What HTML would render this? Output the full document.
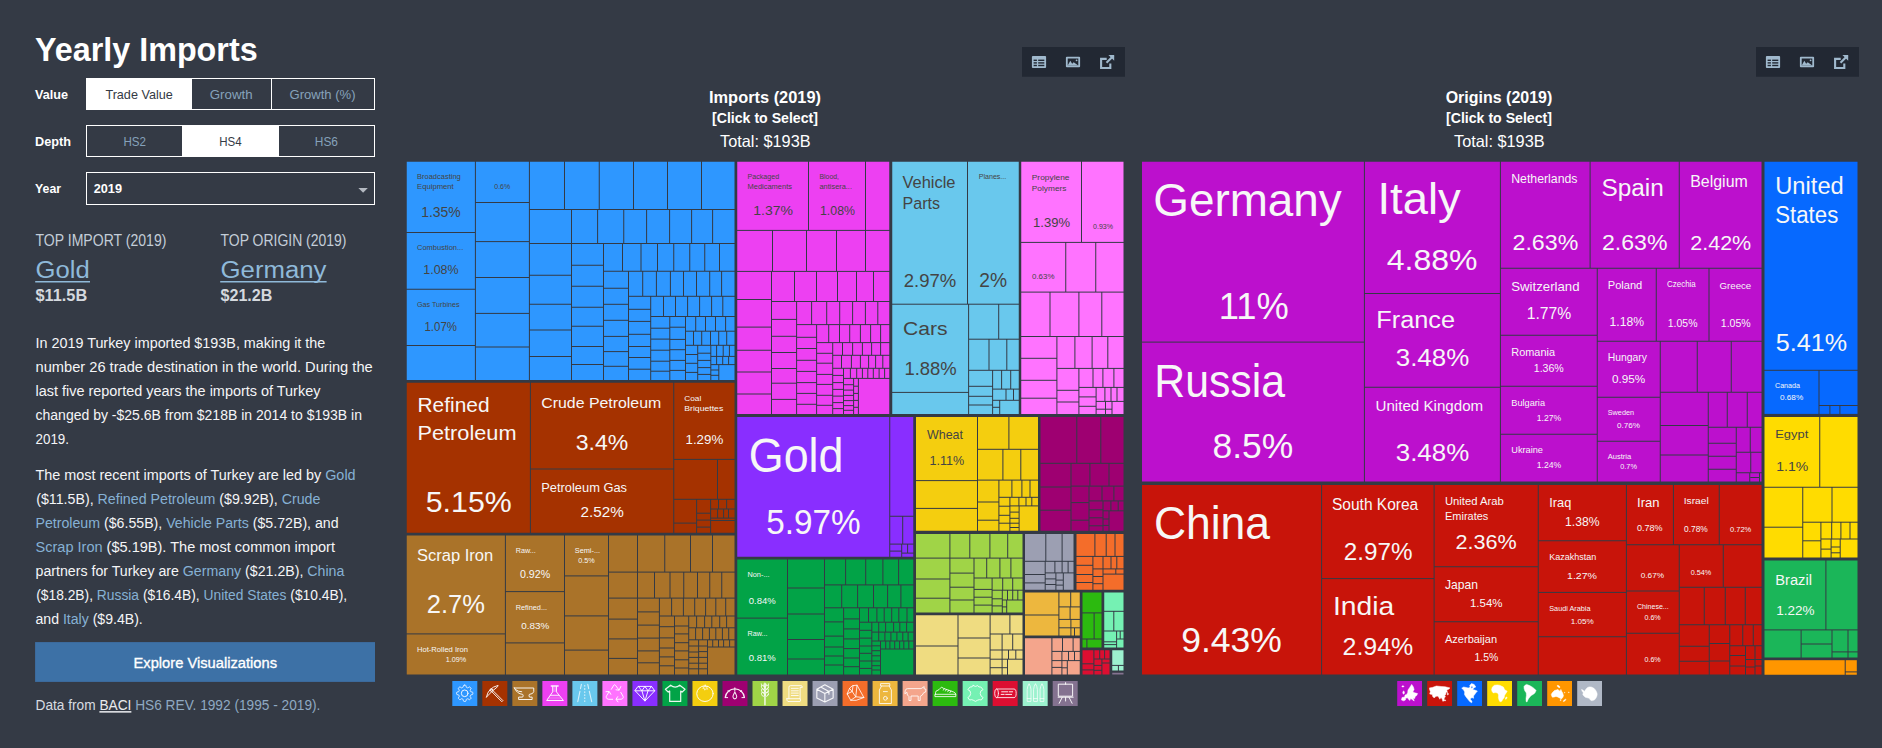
<!DOCTYPE html>
<html lang="en"><head><meta charset="utf-8"><title>Yearly Imports</title>
<style>
html,body{margin:0;padding:0;background:#343a45;}
body{width:1882px;height:748px;overflow:hidden;font-family:"Liberation Sans", sans-serif;}
svg{display:block;font-family:"Liberation Sans", sans-serif;}
svg text{white-space:pre;}
</style></head><body>
<svg width="1882" height="748" viewBox="0 0 1882 748">
<g fill="#2E97FF">
<rect x="406.75" y="161.75" width="68.15" height="70.25"/>
<rect x="406.75" y="233" width="68.15" height="55.75"/>
<rect x="406.75" y="289.75" width="68.15" height="55.25"/>
<rect x="406.75" y="346" width="68.15" height="34"/>
<rect x="475.9" y="161.75" width="53" height="40.25"/>
<rect x="475.9" y="203" width="53" height="38.1"/>
<rect x="475.9" y="242.1" width="53" height="34.9"/>
<rect x="475.9" y="278" width="53" height="34.9"/>
<rect x="475.9" y="313.9" width="53" height="32.6"/>
<rect x="475.9" y="347.5" width="53" height="32.5"/>
<rect x="529.9" y="161.75" width="34.1" height="47.25"/>
<rect x="565" y="161.75" width="33.75" height="47.25"/>
<rect x="599.75" y="161.75" width="33.25" height="47.25"/>
<rect x="634" y="161.75" width="33" height="47.25"/>
<rect x="668" y="161.75" width="33" height="47.25"/>
<rect x="702" y="161.75" width="32.5" height="47.25"/>
<rect x="529.9" y="210" width="41.1" height="33"/>
<rect x="572" y="210" width="25.1" height="33"/>
<rect x="598.1" y="210" width="25.15" height="33"/>
<rect x="624.25" y="210" width="21.85" height="33"/>
<rect x="647.1" y="210" width="22" height="33"/>
<rect x="670.1" y="210" width="21" height="33"/>
<rect x="692.1" y="210" width="20" height="33"/>
<rect x="713.1" y="210" width="21.4" height="33"/>
<rect x="529.9" y="244" width="41.1" height="30.75"/>
<rect x="529.9" y="275.75" width="41.1" height="28"/>
<rect x="529.9" y="304.75" width="41.1" height="24.75"/>
<rect x="529.9" y="330.5" width="41.1" height="25.5"/>
<rect x="529.9" y="357" width="41.1" height="23"/>
<rect x="572" y="244" width="31" height="20.75"/>
<rect x="572" y="265.75" width="31" height="20"/>
<rect x="572" y="286.75" width="31" height="20"/>
<rect x="572" y="307.75" width="31" height="18"/>
<rect x="572" y="326.75" width="31" height="19.25"/>
<rect x="572" y="347" width="31" height="17"/>
<rect x="572" y="365" width="31" height="15"/>
<rect x="604" y="244" width="18" height="26.75"/>
<rect x="623" y="244" width="17.5" height="26.75"/>
<rect x="641.5" y="244" width="15.5" height="26.75"/>
<rect x="658" y="244" width="15.25" height="26.75"/>
<rect x="674.25" y="244" width="15" height="26.75"/>
<rect x="690.25" y="244" width="14" height="26.75"/>
<rect x="705.25" y="244" width="13.75" height="26.75"/>
<rect x="720" y="244" width="14.5" height="26.75"/>
<rect x="604" y="271.75" width="24" height="16"/>
<rect x="604" y="288.75" width="24" height="15.05"/>
<rect x="604" y="304.8" width="24" height="15"/>
<rect x="604" y="320.8" width="24" height="15.1"/>
<rect x="604" y="336.9" width="24" height="14.2"/>
<rect x="604" y="352.1" width="24" height="13.7"/>
<rect x="604" y="366.8" width="24" height="13.2"/>
<rect x="629" y="271.75" width="13.2" height="24.05"/>
<rect x="643.2" y="271.75" width="12.7" height="24.05"/>
<rect x="656.9" y="271.75" width="13" height="24.05"/>
<rect x="670.9" y="271.75" width="12.1" height="24.05"/>
<rect x="684" y="271.75" width="12" height="24.05"/>
<rect x="697" y="271.75" width="12.2" height="24.05"/>
<rect x="710.2" y="271.75" width="10.9" height="24.05"/>
<rect x="722.1" y="271.75" width="12.4" height="24.05"/>
<rect x="629" y="296.8" width="21.2" height="12"/>
<rect x="629" y="309.8" width="21.2" height="11.1"/>
<rect x="629" y="321.9" width="21.2" height="11.9"/>
<rect x="629" y="334.8" width="21.2" height="11.2"/>
<rect x="629" y="347" width="21.2" height="10"/>
<rect x="629" y="358" width="21.2" height="10.7"/>
<rect x="629" y="369.7" width="21.2" height="10.3"/>
<rect x="651.2" y="296.8" width="11.8" height="19.2"/>
<rect x="664" y="296.8" width="11" height="19.2"/>
<rect x="676" y="296.8" width="11.1" height="19.2"/>
<rect x="688.1" y="296.8" width="11" height="19.2"/>
<rect x="700.1" y="296.8" width="11" height="19.2"/>
<rect x="712.1" y="296.8" width="10.2" height="19.2"/>
<rect x="723.3" y="296.8" width="11.2" height="19.2"/>
<rect x="651.2" y="317" width="18.1" height="10.7"/>
<rect x="651.2" y="328.7" width="18.1" height="9.9"/>
<rect x="651.2" y="339.6" width="18.1" height="10.1"/>
<rect x="651.2" y="350.7" width="18.1" height="10"/>
<rect x="651.2" y="361.7" width="18.1" height="9"/>
<rect x="651.2" y="371.7" width="18.1" height="8.3"/>
<rect x="670.3" y="317" width="14.7" height="9.7"/>
<rect x="670.3" y="327.7" width="14.7" height="11.2"/>
<rect x="670.3" y="339.9" width="14.7" height="9.3"/>
<rect x="670.3" y="350.2" width="14.7" height="9.7"/>
<rect x="670.3" y="360.9" width="14.7" height="9"/>
<rect x="670.3" y="370.9" width="14.7" height="9.1"/>
<rect x="686" y="317" width="9.2" height="13.7"/>
<rect x="696.2" y="317" width="8.8" height="13.7"/>
<rect x="706" y="317" width="9" height="13.7"/>
<rect x="716" y="317" width="9.1" height="13.7"/>
<rect x="726.1" y="317" width="8.4" height="13.7"/>
<rect x="686" y="331.7" width="7" height="13.1"/>
<rect x="694" y="331.7" width="7.2" height="13.1"/>
<rect x="702.2" y="331.7" width="7.8" height="13.1"/>
<rect x="711" y="331.7" width="7.2" height="13.1"/>
<rect x="719.2" y="331.7" width="7" height="13.1"/>
<rect x="727.2" y="331.7" width="7.3" height="13.1"/>
<rect x="686" y="345.8" width="11.2" height="8.2"/>
<rect x="686" y="355" width="11.2" height="7.8"/>
<rect x="686" y="363.8" width="11.2" height="8.1"/>
<rect x="686" y="372.9" width="11.2" height="7.1"/>
<rect x="698.2" y="345.8" width="12.1" height="6.9"/>
<rect x="698.2" y="353.7" width="12.1" height="6.2"/>
<rect x="698.2" y="360.9" width="12.1" height="6.2"/>
<rect x="698.2" y="368.1" width="12.1" height="5.8"/>
<rect x="698.2" y="374.9" width="12.1" height="5.1"/>
<rect x="711.3" y="345.8" width="4.8" height="10.1"/>
<rect x="717.1" y="345.8" width="5.6" height="10.1"/>
<rect x="723.7" y="345.8" width="5.2" height="10.1"/>
<rect x="729.9" y="345.8" width="4.6" height="10.1"/>
<rect x="711.3" y="356.9" width="4.8" height="7.2"/>
<rect x="717.1" y="356.9" width="5.1" height="7.2"/>
<rect x="723.2" y="356.9" width="4.9" height="7.2"/>
<rect x="729.1" y="356.9" width="5.4" height="7.2"/>
<rect x="711.3" y="365.1" width="7" height="4.4"/>
<rect x="711.3" y="370.5" width="7" height="4.3"/>
<rect x="711.3" y="375.8" width="7" height="4.2"/>
<rect x="719.3" y="365.1" width="15.2" height="14.9"/>
</g>
<g fill="#A53200">
<rect x="406.75" y="382.75" width="123.15" height="150"/>
<rect x="530.9" y="382.75" width="142.35" height="85.75"/>
<rect x="530.9" y="469.5" width="142.35" height="63.25"/>
<rect x="674.25" y="382.75" width="60.25" height="76.15"/>
<rect x="674.25" y="459.9" width="42.75" height="38.9"/>
<rect x="718" y="459.9" width="16.5" height="38.9"/>
<rect x="674.25" y="499.8" width="21.85" height="22.8"/>
<rect x="674.25" y="523.6" width="21.85" height="9.15"/>
<rect x="697.1" y="499.8" width="13" height="12.9"/>
<rect x="697.1" y="513.7" width="13" height="5.9"/>
<rect x="697.1" y="520.6" width="13" height="6"/>
<rect x="697.1" y="527.6" width="13" height="5.15"/>
<rect x="711.1" y="499.8" width="6.9" height="8.7"/>
<rect x="719" y="499.8" width="7.1" height="8.7"/>
<rect x="727.1" y="499.8" width="7.4" height="8.7"/>
<rect x="711.1" y="509.5" width="6" height="8.1"/>
<rect x="718.1" y="509.5" width="5" height="8.1"/>
<rect x="724.1" y="509.5" width="3.9" height="8.1"/>
<rect x="729" y="509.5" width="5.5" height="8.1"/>
<rect x="711.1" y="518.6" width="23.4" height="1.4"/>
<rect x="711.1" y="521" width="23.4" height="11.75"/>
</g>
<g fill="#AA7329">
<rect x="406.75" y="535.5" width="98.15" height="97.9"/>
<rect x="406.75" y="634.4" width="98.15" height="40.1"/>
<rect x="505.9" y="535.5" width="58.1" height="55.6"/>
<rect x="505.9" y="592.1" width="58.1" height="50.3"/>
<rect x="505.9" y="643.4" width="58.1" height="31.1"/>
<rect x="565" y="535.5" width="43" height="39.9"/>
<rect x="565" y="576.4" width="43" height="39"/>
<rect x="565" y="616.4" width="43" height="33.2"/>
<rect x="565" y="650.6" width="43" height="23.9"/>
<rect x="609" y="535.5" width="28" height="36.1"/>
<rect x="609" y="572.6" width="28" height="25"/>
<rect x="609" y="598.6" width="28" height="20"/>
<rect x="609" y="619.6" width="28" height="18.8"/>
<rect x="609" y="639.4" width="28" height="18.5"/>
<rect x="609" y="658.9" width="28" height="15.6"/>
<rect x="638" y="535.5" width="26.25" height="36.1"/>
<rect x="665.25" y="535.5" width="24.75" height="36.1"/>
<rect x="691" y="535.5" width="21" height="36.1"/>
<rect x="713" y="535.5" width="21.5" height="36.1"/>
<rect x="638" y="572.6" width="16" height="25"/>
<rect x="655" y="572.6" width="14.5" height="25"/>
<rect x="670.5" y="572.6" width="12.75" height="25"/>
<rect x="684.25" y="572.6" width="12.75" height="25"/>
<rect x="698" y="572.6" width="11.25" height="25"/>
<rect x="710.25" y="572.6" width="11" height="25"/>
<rect x="722.25" y="572.6" width="12.25" height="25"/>
<rect x="638" y="598.6" width="20.9" height="12.8"/>
<rect x="638" y="612.4" width="20.9" height="12.2"/>
<rect x="638" y="625.6" width="20.9" height="12"/>
<rect x="638" y="638.6" width="20.9" height="11.8"/>
<rect x="638" y="651.4" width="20.9" height="10.9"/>
<rect x="638" y="663.3" width="20.9" height="11.2"/>
<rect x="659.9" y="598.6" width="11.2" height="16.9"/>
<rect x="672.1" y="598.6" width="10.8" height="16.9"/>
<rect x="683.9" y="598.6" width="10.3" height="16.9"/>
<rect x="695.2" y="598.6" width="9.9" height="16.9"/>
<rect x="706.1" y="598.6" width="9.2" height="16.9"/>
<rect x="716.3" y="598.6" width="8.9" height="16.9"/>
<rect x="726.2" y="598.6" width="8.3" height="16.9"/>
<rect x="659.9" y="616.5" width="14.1" height="9.7"/>
<rect x="659.9" y="627.2" width="14.1" height="10.2"/>
<rect x="659.9" y="638.4" width="14.1" height="9.1"/>
<rect x="659.9" y="648.5" width="14.1" height="7.9"/>
<rect x="659.9" y="657.4" width="14.1" height="7.9"/>
<rect x="659.9" y="666.3" width="14.1" height="8.2"/>
<rect x="675" y="616.5" width="13.2" height="9"/>
<rect x="675" y="626.5" width="13.2" height="6.9"/>
<rect x="675" y="634.4" width="13.2" height="7.8"/>
<rect x="675" y="643.2" width="13.2" height="7.2"/>
<rect x="675" y="651.4" width="13.2" height="7.9"/>
<rect x="675" y="660.3" width="13.2" height="7.2"/>
<rect x="675" y="668.5" width="13.2" height="6"/>
<rect x="689.2" y="616.5" width="6.9" height="10.8"/>
<rect x="697.1" y="616.5" width="7" height="10.8"/>
<rect x="705.1" y="616.5" width="6.2" height="10.8"/>
<rect x="712.3" y="616.5" width="6.9" height="10.8"/>
<rect x="720.2" y="616.5" width="5.9" height="10.8"/>
<rect x="727.1" y="616.5" width="7.4" height="10.8"/>
<rect x="689.2" y="628.3" width="5.9" height="11"/>
<rect x="696.1" y="628.3" width="6" height="11"/>
<rect x="703.1" y="628.3" width="5.8" height="11"/>
<rect x="709.9" y="628.3" width="5.4" height="11"/>
<rect x="716.3" y="628.3" width="5.6" height="11"/>
<rect x="722.9" y="628.3" width="5.3" height="11"/>
<rect x="729.2" y="628.3" width="5.3" height="11"/>
<rect x="689.2" y="640.3" width="8.9" height="5.2"/>
<rect x="689.2" y="646.5" width="8.9" height="5"/>
<rect x="689.2" y="652.5" width="8.9" height="4.4"/>
<rect x="689.2" y="657.9" width="8.9" height="4.8"/>
<rect x="689.2" y="663.7" width="8.9" height="4.6"/>
<rect x="689.2" y="669.3" width="8.9" height="5.2"/>
<rect x="699.1" y="640.3" width="7.9" height="5.2"/>
<rect x="699.1" y="646.5" width="7.9" height="4.6"/>
<rect x="699.1" y="652.1" width="7.9" height="4.8"/>
<rect x="699.1" y="657.9" width="7.9" height="4.8"/>
<rect x="699.1" y="663.7" width="7.9" height="4.6"/>
<rect x="699.1" y="669.3" width="7.9" height="5.2"/>
<rect x="708" y="640.3" width="4.2" height="6.2"/>
<rect x="713.2" y="640.3" width="4.8" height="6.2"/>
<rect x="719" y="640.3" width="4.1" height="6.2"/>
<rect x="724.1" y="640.3" width="5" height="6.2"/>
<rect x="730.1" y="640.3" width="4.4" height="6.2"/>
<rect x="708" y="647.5" width="26.5" height="27"/>
</g>
<g fill="#ED40F2">
<rect x="737.25" y="161.75" width="70.75" height="68.15"/>
<rect x="809" y="161.75" width="56" height="68.15"/>
<rect x="866" y="161.75" width="23.25" height="68.15"/>
<rect x="737.25" y="230.9" width="34.75" height="40"/>
<rect x="773" y="230.9" width="33" height="40"/>
<rect x="807" y="230.9" width="29" height="40"/>
<rect x="837" y="230.9" width="28" height="40"/>
<rect x="866" y="230.9" width="23.25" height="40"/>
<rect x="737.25" y="271.9" width="33.75" height="27.1"/>
<rect x="737.25" y="300" width="33.75" height="26.6"/>
<rect x="737.25" y="327.6" width="33.75" height="22.15"/>
<rect x="737.25" y="350.75" width="33.75" height="20.75"/>
<rect x="737.25" y="372.5" width="33.75" height="21"/>
<rect x="737.25" y="394.5" width="33.75" height="19.5"/>
<rect x="772" y="271.9" width="22" height="29.1"/>
<rect x="795" y="271.9" width="21" height="29.1"/>
<rect x="817" y="271.9" width="20" height="29.1"/>
<rect x="838" y="271.9" width="18" height="29.1"/>
<rect x="857" y="271.9" width="16" height="29.1"/>
<rect x="874" y="271.9" width="15.25" height="29.1"/>
<rect x="772" y="302" width="24.1" height="16.9"/>
<rect x="772" y="319.9" width="24.1" height="15.9"/>
<rect x="772" y="336.8" width="24.1" height="15.2"/>
<rect x="772" y="353" width="24.1" height="15"/>
<rect x="772" y="369" width="24.1" height="13.7"/>
<rect x="772" y="383.7" width="24.1" height="15.2"/>
<rect x="772" y="399.9" width="24.1" height="14.1"/>
<rect x="797.1" y="302" width="14" height="22.1"/>
<rect x="812.1" y="302" width="14.1" height="22.1"/>
<rect x="827.2" y="302" width="12" height="22.1"/>
<rect x="840.2" y="302" width="11.9" height="22.1"/>
<rect x="853.1" y="302" width="11.8" height="22.1"/>
<rect x="865.9" y="302" width="11.4" height="22.1"/>
<rect x="878.3" y="302" width="10.95" height="22.1"/>
<rect x="797.1" y="325.1" width="19" height="11.7"/>
<rect x="797.1" y="337.8" width="19" height="10.2"/>
<rect x="797.1" y="349" width="19" height="10.8"/>
<rect x="797.1" y="360.8" width="19" height="10.1"/>
<rect x="797.1" y="371.9" width="19" height="10.2"/>
<rect x="797.1" y="383.1" width="19" height="9.8"/>
<rect x="797.1" y="393.9" width="19" height="9.9"/>
<rect x="797.1" y="404.8" width="19" height="9.2"/>
<rect x="817.1" y="325.1" width="11.1" height="17"/>
<rect x="829.2" y="325.1" width="9.8" height="17"/>
<rect x="840" y="325.1" width="9.2" height="17"/>
<rect x="850.2" y="325.1" width="9.7" height="17"/>
<rect x="860.9" y="325.1" width="9.2" height="17"/>
<rect x="871.1" y="325.1" width="9" height="17"/>
<rect x="881.1" y="325.1" width="8.15" height="17"/>
<rect x="817.1" y="343.1" width="15.1" height="9.7"/>
<rect x="817.1" y="353.8" width="15.1" height="8.9"/>
<rect x="817.1" y="363.7" width="15.1" height="10.2"/>
<rect x="817.1" y="374.9" width="15.1" height="9"/>
<rect x="817.1" y="384.9" width="15.1" height="9.9"/>
<rect x="817.1" y="395.8" width="15.1" height="9"/>
<rect x="817.1" y="405.8" width="15.1" height="8.2"/>
<rect x="833.2" y="343.1" width="8.8" height="11.7"/>
<rect x="843" y="343.1" width="9.1" height="11.7"/>
<rect x="853.1" y="343.1" width="8.8" height="11.7"/>
<rect x="862.9" y="343.1" width="8.2" height="11.7"/>
<rect x="872.1" y="343.1" width="8" height="11.7"/>
<rect x="881.1" y="343.1" width="8.15" height="11.7"/>
<rect x="833.2" y="355.8" width="7.8" height="12"/>
<rect x="842" y="355.8" width="8.9" height="12"/>
<rect x="851.9" y="355.8" width="8" height="12"/>
<rect x="860.9" y="355.8" width="7.2" height="12"/>
<rect x="869.1" y="355.8" width="6" height="12"/>
<rect x="876.1" y="355.8" width="6.2" height="12"/>
<rect x="883.3" y="355.8" width="5.95" height="12"/>
<rect x="833.2" y="368.8" width="9.8" height="6.1"/>
<rect x="833.2" y="375.9" width="9.8" height="6.2"/>
<rect x="833.2" y="383.1" width="9.8" height="5.8"/>
<rect x="833.2" y="389.9" width="9.8" height="5.7"/>
<rect x="833.2" y="396.6" width="9.8" height="5.5"/>
<rect x="833.2" y="403.1" width="9.8" height="5"/>
<rect x="833.2" y="409.1" width="9.8" height="4.9"/>
<rect x="844" y="368.8" width="5.9" height="9.1"/>
<rect x="850.9" y="368.8" width="5.3" height="9.1"/>
<rect x="857.2" y="368.8" width="4.7" height="9.1"/>
<rect x="862.9" y="368.8" width="4.4" height="9.1"/>
<rect x="868.3" y="368.8" width="4.5" height="9.1"/>
<rect x="873.8" y="368.8" width="4.8" height="9.1"/>
<rect x="879.6" y="368.8" width="4.5" height="9.1"/>
<rect x="885.1" y="368.8" width="4.15" height="9.1"/>
<rect x="844" y="378.9" width="9.1" height="5.3"/>
<rect x="844" y="385.2" width="9.1" height="4.4"/>
<rect x="844" y="390.6" width="9.1" height="4.3"/>
<rect x="844" y="395.9" width="9.1" height="4.2"/>
<rect x="844" y="401.1" width="9.1" height="4"/>
<rect x="844" y="406.1" width="9.1" height="3.7"/>
<rect x="844" y="410.8" width="9.1" height="3.2"/>
<rect x="854.1" y="378.9" width="3.8" height="6.8"/>
<rect x="854.1" y="386.7" width="3.8" height="6.2"/>
<rect x="854.1" y="393.9" width="3.8" height="6"/>
<rect x="854.1" y="400.9" width="3.8" height="5.9"/>
<rect x="854.1" y="407.8" width="3.8" height="6.2"/>
<rect x="858.9" y="378.9" width="30.35" height="35.1"/>
</g>
<g fill="#69C8ED">
<rect x="892.25" y="161.75" width="74.75" height="141.95"/>
<rect x="968" y="161.75" width="50.75" height="141.95"/>
<rect x="892.25" y="304.7" width="75.85" height="87.2"/>
<rect x="892.25" y="392.9" width="75.85" height="21.1"/>
<rect x="969.1" y="304.7" width="29.1" height="34"/>
<rect x="999.2" y="304.7" width="19.55" height="34"/>
<rect x="969.1" y="339.7" width="19.4" height="30.1"/>
<rect x="989.5" y="339.7" width="16.8" height="30.1"/>
<rect x="1007.3" y="339.7" width="11.45" height="30.1"/>
<rect x="969.1" y="370.8" width="23" height="15"/>
<rect x="969.1" y="386.8" width="23" height="9"/>
<rect x="969.1" y="396.8" width="23" height="7.7"/>
<rect x="969.1" y="405.5" width="23" height="8.5"/>
<rect x="993.1" y="370.8" width="8" height="17.8"/>
<rect x="1002.1" y="370.8" width="8.1" height="17.8"/>
<rect x="1011.2" y="370.8" width="7.55" height="17.8"/>
<rect x="993.1" y="389.6" width="12.4" height="10.2"/>
<rect x="1006.5" y="389.6" width="6.5" height="10.2"/>
<rect x="1014" y="389.6" width="4.75" height="10.2"/>
<rect x="993.1" y="400.8" width="6.1" height="6"/>
<rect x="993.1" y="407.8" width="6.1" height="6.2"/>
<rect x="1000.2" y="400.8" width="18.55" height="13.2"/>
</g>
<g fill="#FF73FF">
<rect x="1021.25" y="161.75" width="59.75" height="80.15"/>
<rect x="1082" y="161.75" width="41.5" height="80.15"/>
<rect x="1021.25" y="242.9" width="44" height="48.7"/>
<rect x="1066.25" y="242.9" width="29" height="48.7"/>
<rect x="1096.25" y="242.9" width="27.25" height="48.7"/>
<rect x="1021.25" y="292.6" width="28.25" height="43.4"/>
<rect x="1050.5" y="292.6" width="27.9" height="43.4"/>
<rect x="1079.4" y="292.6" width="21.9" height="43.4"/>
<rect x="1102.3" y="292.6" width="21.2" height="43.4"/>
<rect x="1021.25" y="337" width="35.15" height="20.8"/>
<rect x="1021.25" y="358.8" width="35.15" height="21"/>
<rect x="1021.25" y="380.8" width="35.15" height="16.9"/>
<rect x="1021.25" y="398.7" width="35.15" height="15.3"/>
<rect x="1057.4" y="337" width="17" height="30.9"/>
<rect x="1075.4" y="337" width="16.2" height="30.9"/>
<rect x="1092.6" y="337" width="14.7" height="30.9"/>
<rect x="1108.3" y="337" width="15.2" height="30.9"/>
<rect x="1057.4" y="368.9" width="21" height="20.9"/>
<rect x="1057.4" y="390.8" width="21" height="10.7"/>
<rect x="1057.4" y="402.5" width="21" height="11.5"/>
<rect x="1079.4" y="368.9" width="13.1" height="18"/>
<rect x="1093.5" y="368.9" width="8.9" height="18"/>
<rect x="1103.4" y="368.9" width="10" height="18"/>
<rect x="1114.4" y="368.9" width="9.1" height="18"/>
<rect x="1079.4" y="387.9" width="16.2" height="8.5"/>
<rect x="1079.4" y="397.4" width="16.2" height="8.4"/>
<rect x="1079.4" y="406.8" width="16.2" height="7.2"/>
<rect x="1096.6" y="387.9" width="7.8" height="13"/>
<rect x="1105.4" y="387.9" width="5.1" height="13"/>
<rect x="1111.5" y="387.9" width="5" height="13"/>
<rect x="1117.5" y="387.9" width="6" height="13"/>
<rect x="1096.6" y="401.9" width="8.4" height="6.8"/>
<rect x="1096.6" y="409.7" width="8.4" height="4.3"/>
<rect x="1106" y="401.9" width="5.5" height="6.8"/>
<rect x="1106" y="409.7" width="5.5" height="4.3"/>
<rect x="1112.5" y="401.9" width="11" height="12.1"/>
</g>
<g fill="#892EFF">
<rect x="737.25" y="417" width="152" height="139.75"/>
<rect x="890.25" y="417" width="23" height="98.75"/>
<rect x="890.25" y="516.75" width="11.95" height="26.85"/>
<rect x="903.2" y="516.75" width="10.05" height="26.85"/>
<rect x="890.25" y="544.6" width="10.95" height="6"/>
<rect x="890.25" y="551.6" width="10.95" height="5.15"/>
<rect x="902.2" y="544.6" width="4.9" height="8"/>
<rect x="908.1" y="544.6" width="5.15" height="8"/>
<rect x="902.2" y="553.6" width="11.05" height="3.15"/>
</g>
<g fill="#F4CE0F">
<rect x="916" y="417" width="61" height="63.1"/>
<rect x="916" y="481.1" width="61" height="26.8"/>
<rect x="916" y="508.9" width="61" height="21.85"/>
<rect x="978" y="417" width="30.4" height="31.8"/>
<rect x="1009.4" y="417" width="28.6" height="31.8"/>
<rect x="978" y="449.8" width="24.4" height="29.8"/>
<rect x="1003.4" y="449.8" width="16.9" height="29.8"/>
<rect x="1021.3" y="449.8" width="16.7" height="29.8"/>
<rect x="978" y="480.6" width="20.4" height="20.9"/>
<rect x="978" y="502.5" width="20.4" height="17.2"/>
<rect x="978" y="520.7" width="20.4" height="10.05"/>
<rect x="999.4" y="480.6" width="12" height="16.2"/>
<rect x="1012.4" y="480.6" width="9" height="16.2"/>
<rect x="1022.4" y="480.6" width="7.1" height="16.2"/>
<rect x="1030.5" y="480.6" width="7.5" height="16.2"/>
<rect x="999.4" y="497.8" width="10" height="7.9"/>
<rect x="999.4" y="506.7" width="10" height="8.1"/>
<rect x="999.4" y="515.8" width="10" height="6.9"/>
<rect x="999.4" y="523.7" width="10" height="7.05"/>
<rect x="1010.4" y="497.8" width="8" height="7.6"/>
<rect x="1019.4" y="497.8" width="6.1" height="7.6"/>
<rect x="1026.5" y="497.8" width="4.8" height="7.6"/>
<rect x="1032.3" y="497.8" width="5.7" height="7.6"/>
<rect x="1010.4" y="506.4" width="8.2" height="5.2"/>
<rect x="1010.4" y="512.6" width="8.2" height="5.2"/>
<rect x="1010.4" y="518.8" width="8.2" height="3.9"/>
<rect x="1010.4" y="523.7" width="8.2" height="3.3"/>
<rect x="1010.4" y="528" width="8.2" height="2.75"/>
<rect x="1019.6" y="506.4" width="18.4" height="24.35"/>
</g>
<g fill="#9E0071">
<rect x="1040.5" y="417" width="35.8" height="45.8"/>
<rect x="1077.3" y="417" width="23" height="45.8"/>
<rect x="1101.3" y="417" width="22.2" height="45.8"/>
<rect x="1040.5" y="463.8" width="30" height="22.7"/>
<rect x="1040.5" y="487.5" width="30" height="22.2"/>
<rect x="1040.5" y="510.7" width="30" height="20.05"/>
<rect x="1071.5" y="463.8" width="17.9" height="21.8"/>
<rect x="1090.4" y="463.8" width="18.1" height="21.8"/>
<rect x="1109.5" y="463.8" width="14" height="21.8"/>
<rect x="1071.5" y="486.6" width="17" height="15.5"/>
<rect x="1071.5" y="503.1" width="17" height="16.6"/>
<rect x="1071.5" y="520.7" width="17" height="10.05"/>
<rect x="1089.5" y="486.6" width="12" height="13.8"/>
<rect x="1102.5" y="486.6" width="10.9" height="13.8"/>
<rect x="1114.4" y="486.6" width="9.1" height="13.8"/>
<rect x="1089.5" y="501.4" width="13" height="7.9"/>
<rect x="1089.5" y="510.3" width="13" height="7"/>
<rect x="1089.5" y="518.3" width="13" height="7"/>
<rect x="1089.5" y="526.3" width="13" height="4.45"/>
<rect x="1103.5" y="501.4" width="6.9" height="8.9"/>
<rect x="1111.4" y="501.4" width="6.3" height="8.9"/>
<rect x="1118.7" y="501.4" width="4.8" height="8.9"/>
<rect x="1103.5" y="511.3" width="5" height="7.2"/>
<rect x="1103.5" y="519.5" width="5" height="5.4"/>
<rect x="1103.5" y="525.9" width="5" height="4.85"/>
<rect x="1109.5" y="511.3" width="14" height="19.45"/>
</g>
<g fill="#02A347">
<rect x="737.25" y="559.5" width="49.75" height="58.1"/>
<rect x="737.25" y="618.6" width="49.75" height="55.9"/>
<rect x="788" y="559.5" width="36" height="28"/>
<rect x="788" y="588.5" width="36" height="25"/>
<rect x="788" y="614.5" width="36" height="24.5"/>
<rect x="788" y="640" width="36" height="18.5"/>
<rect x="788" y="659.5" width="36" height="15"/>
<rect x="825" y="559.5" width="20.1" height="24.9"/>
<rect x="846.1" y="559.5" width="19.1" height="24.9"/>
<rect x="866.2" y="559.5" width="16.2" height="24.9"/>
<rect x="883.4" y="559.5" width="14.7" height="24.9"/>
<rect x="899.1" y="559.5" width="14.15" height="24.9"/>
<rect x="825" y="585.4" width="16.2" height="21.9"/>
<rect x="842.2" y="585.4" width="14.9" height="21.9"/>
<rect x="858.1" y="585.4" width="14.9" height="21.9"/>
<rect x="874" y="585.4" width="13.1" height="21.9"/>
<rect x="888.1" y="585.4" width="12.3" height="21.9"/>
<rect x="901.4" y="585.4" width="11.85" height="21.9"/>
<rect x="825" y="608.3" width="18.1" height="13.1"/>
<rect x="825" y="622.4" width="18.1" height="13.2"/>
<rect x="825" y="636.6" width="18.1" height="9.9"/>
<rect x="825" y="647.5" width="18.1" height="8"/>
<rect x="825" y="656.5" width="18.1" height="8"/>
<rect x="825" y="665.5" width="18.1" height="9"/>
<rect x="844.1" y="608.3" width="14.9" height="10.1"/>
<rect x="844.1" y="619.4" width="14.9" height="9"/>
<rect x="844.1" y="629.4" width="14.9" height="9"/>
<rect x="844.1" y="639.4" width="14.9" height="8.7"/>
<rect x="844.1" y="649.1" width="14.9" height="8.4"/>
<rect x="844.1" y="658.5" width="14.9" height="7.7"/>
<rect x="844.1" y="667.2" width="14.9" height="7.3"/>
<rect x="860" y="608.3" width="8" height="13.4"/>
<rect x="869" y="608.3" width="7.4" height="13.4"/>
<rect x="877.4" y="608.3" width="6.3" height="13.4"/>
<rect x="884.7" y="608.3" width="6.5" height="13.4"/>
<rect x="892.2" y="608.3" width="6.1" height="13.4"/>
<rect x="899.3" y="608.3" width="7.2" height="13.4"/>
<rect x="907.5" y="608.3" width="5.75" height="13.4"/>
<rect x="860" y="622.7" width="11.3" height="7.1"/>
<rect x="860" y="630.8" width="11.3" height="6.8"/>
<rect x="860" y="638.6" width="11.3" height="6.9"/>
<rect x="860" y="646.5" width="11.3" height="6.3"/>
<rect x="860" y="653.8" width="11.3" height="6.7"/>
<rect x="860" y="661.5" width="11.3" height="6.4"/>
<rect x="860" y="668.9" width="11.3" height="5.6"/>
<rect x="872.3" y="622.7" width="5.9" height="8.9"/>
<rect x="879.2" y="622.7" width="5.9" height="8.9"/>
<rect x="886.1" y="622.7" width="7" height="8.9"/>
<rect x="894.1" y="622.7" width="5.2" height="8.9"/>
<rect x="900.3" y="622.7" width="5.8" height="8.9"/>
<rect x="907.1" y="622.7" width="6.15" height="8.9"/>
<rect x="872.3" y="632.6" width="5.9" height="7.9"/>
<rect x="879.2" y="632.6" width="5.2" height="7.9"/>
<rect x="885.4" y="632.6" width="5" height="7.9"/>
<rect x="891.4" y="632.6" width="5" height="7.9"/>
<rect x="897.4" y="632.6" width="4.9" height="7.9"/>
<rect x="903.3" y="632.6" width="4.3" height="7.9"/>
<rect x="908.6" y="632.6" width="4.65" height="7.9"/>
<rect x="872.3" y="641.5" width="7.7" height="3.8"/>
<rect x="872.3" y="646.3" width="7.7" height="3.9"/>
<rect x="872.3" y="651.2" width="7.7" height="4.1"/>
<rect x="872.3" y="656.3" width="7.7" height="4.2"/>
<rect x="872.3" y="661.5" width="7.7" height="3.7"/>
<rect x="872.3" y="666.2" width="7.7" height="3.3"/>
<rect x="872.3" y="670.5" width="7.7" height="4"/>
<rect x="881" y="641.5" width="4.2" height="7"/>
<rect x="886.2" y="641.5" width="3.2" height="7"/>
<rect x="890.4" y="641.5" width="3.8" height="7"/>
<rect x="895.2" y="641.5" width="3.9" height="7"/>
<rect x="900.1" y="641.5" width="3.2" height="7"/>
<rect x="904.3" y="641.5" width="4" height="7"/>
<rect x="909.3" y="641.5" width="3.95" height="7"/>
<rect x="881" y="649.5" width="32.25" height="25"/>
</g>
<g fill="#A0D447">
<rect x="916" y="534" width="33.4" height="23.6"/>
<rect x="916" y="558.6" width="33.4" height="19.9"/>
<rect x="916" y="579.5" width="33.4" height="18.2"/>
<rect x="916" y="598.7" width="33.4" height="13.8"/>
<rect x="950.4" y="534" width="18.9" height="23.6"/>
<rect x="970.3" y="534" width="19.1" height="23.6"/>
<rect x="990.4" y="534" width="16.8" height="23.6"/>
<rect x="1008.2" y="534" width="14.3" height="23.6"/>
<rect x="950.4" y="558.6" width="23.1" height="14"/>
<rect x="950.4" y="573.6" width="23.1" height="13.1"/>
<rect x="950.4" y="587.7" width="23.1" height="11.8"/>
<rect x="950.4" y="600.5" width="23.1" height="12"/>
<rect x="974.5" y="558.6" width="11.7" height="18.9"/>
<rect x="987.2" y="558.6" width="12.2" height="18.9"/>
<rect x="1000.4" y="558.6" width="10" height="18.9"/>
<rect x="1011.4" y="558.6" width="11.1" height="18.9"/>
<rect x="974.5" y="578.5" width="17.1" height="10.4"/>
<rect x="974.5" y="589.9" width="17.1" height="6.8"/>
<rect x="974.5" y="597.7" width="17.1" height="6.9"/>
<rect x="974.5" y="605.6" width="17.1" height="6.9"/>
<rect x="992.6" y="578.5" width="9.6" height="11.2"/>
<rect x="1003.2" y="578.5" width="9" height="11.2"/>
<rect x="1013.2" y="578.5" width="9.3" height="11.2"/>
<rect x="992.6" y="590.7" width="9.2" height="7.6"/>
<rect x="992.6" y="599.3" width="9.2" height="6.1"/>
<rect x="992.6" y="606.4" width="9.2" height="6.1"/>
<rect x="1002.8" y="590.7" width="4.2" height="8.8"/>
<rect x="1008" y="590.7" width="4.2" height="8.8"/>
<rect x="1013.2" y="590.7" width="4.1" height="8.8"/>
<rect x="1018.3" y="590.7" width="4.2" height="8.8"/>
<rect x="1002.8" y="600.5" width="3.4" height="5.9"/>
<rect x="1002.8" y="607.4" width="3.4" height="5.1"/>
<rect x="1007.2" y="600.5" width="15.3" height="12"/>
</g>
<g fill="#EFDC81">
<rect x="916" y="615.25" width="41.5" height="30.25"/>
<rect x="916" y="646.5" width="41.5" height="28"/>
<rect x="958.5" y="615.25" width="31.1" height="22.25"/>
<rect x="958.5" y="638.5" width="31.1" height="19"/>
<rect x="958.5" y="658.5" width="31.1" height="16"/>
<rect x="990.6" y="615.25" width="18.8" height="18.25"/>
<rect x="1010.4" y="615.25" width="12.1" height="18.25"/>
<rect x="990.6" y="634.5" width="11" height="15"/>
<rect x="990.6" y="650.5" width="11" height="8.2"/>
<rect x="990.6" y="659.7" width="11" height="7.5"/>
<rect x="990.6" y="668.2" width="11" height="6.3"/>
<rect x="1002.6" y="634.5" width="9.6" height="15"/>
<rect x="1013.2" y="634.5" width="9.3" height="15"/>
<rect x="1002.6" y="650.5" width="5.4" height="8.2"/>
<rect x="1009" y="650.5" width="6.3" height="8.2"/>
<rect x="1016.3" y="650.5" width="6.2" height="8.2"/>
<rect x="1002.6" y="659.7" width="4.4" height="7.5"/>
<rect x="1002.6" y="668.2" width="4.4" height="6.3"/>
<rect x="1008" y="659.7" width="14.5" height="14.8"/>
</g>
<g fill="#9C9FB2">
<rect x="1025" y="534" width="20.3" height="26.8"/>
<rect x="1046.3" y="534" width="15.3" height="26.8"/>
<rect x="1062.6" y="534" width="10.9" height="26.8"/>
<rect x="1025" y="561.8" width="19.7" height="12.2"/>
<rect x="1025" y="575" width="19.7" height="7.4"/>
<rect x="1025" y="583.4" width="19.7" height="6.35"/>
<rect x="1045.7" y="561.8" width="8.7" height="10.6"/>
<rect x="1055.4" y="561.8" width="6.2" height="10.6"/>
<rect x="1062.6" y="561.8" width="5" height="10.6"/>
<rect x="1068.6" y="561.8" width="4.9" height="10.6"/>
<rect x="1045.7" y="573.4" width="9.7" height="5"/>
<rect x="1045.7" y="579.4" width="9.7" height="4.6"/>
<rect x="1045.7" y="585" width="9.7" height="4.75"/>
<rect x="1056.4" y="573.4" width="6.4" height="6.2"/>
<rect x="1056.4" y="580.6" width="6.4" height="4"/>
<rect x="1056.4" y="585.6" width="6.4" height="4.15"/>
<rect x="1063.8" y="573.4" width="9.7" height="16.35"/>
</g>
<g fill="#F46D2A">
<rect x="1076.5" y="534" width="17.9" height="21.9"/>
<rect x="1095.4" y="534" width="10.3" height="21.9"/>
<rect x="1106.7" y="534" width="7.8" height="21.9"/>
<rect x="1115.5" y="534" width="8" height="21.9"/>
<rect x="1076.5" y="556.9" width="15.9" height="7.9"/>
<rect x="1076.5" y="565.8" width="15.9" height="8.2"/>
<rect x="1076.5" y="575" width="15.9" height="7"/>
<rect x="1076.5" y="583" width="15.9" height="6.75"/>
<rect x="1093.4" y="556.9" width="9.1" height="11.5"/>
<rect x="1103.5" y="556.9" width="7" height="11.5"/>
<rect x="1111.5" y="556.9" width="4.8" height="11.5"/>
<rect x="1117.3" y="556.9" width="6.2" height="11.5"/>
<rect x="1093.4" y="569.4" width="9.1" height="6.6"/>
<rect x="1093.4" y="577" width="9.1" height="6.2"/>
<rect x="1093.4" y="584.2" width="9.1" height="5.55"/>
<rect x="1103.5" y="569.4" width="11.8" height="4.2"/>
<rect x="1116.3" y="569.4" width="7.2" height="4.2"/>
<rect x="1103.5" y="574.6" width="20" height="15.15"/>
</g>
<g fill="#EDB73E">
<rect x="1025" y="592.5" width="33.4" height="22"/>
<rect x="1025" y="615.5" width="33.4" height="20"/>
<rect x="1059.4" y="592.5" width="10.8" height="13.9"/>
<rect x="1071.2" y="592.5" width="8.55" height="13.9"/>
<rect x="1059.4" y="607.4" width="10.2" height="11.5"/>
<rect x="1070.6" y="607.4" width="9.15" height="11.5"/>
<rect x="1059.4" y="619.9" width="11" height="7.4"/>
<rect x="1071.4" y="619.9" width="8.35" height="7.4"/>
<rect x="1059.4" y="628.3" width="11" height="7.2"/>
<rect x="1071.4" y="628.3" width="2.6" height="7.2"/>
<rect x="1075" y="628.3" width="4.75" height="7.2"/>
</g>
<g fill="#2CBA0F">
<rect x="1082.5" y="592.5" width="19" height="19.9"/>
<rect x="1082.5" y="613.4" width="11.1" height="25.1"/>
<rect x="1094.6" y="613.4" width="6.9" height="25.1"/>
<rect x="1082.5" y="639.5" width="3.9" height="8"/>
<rect x="1087.4" y="639.5" width="14.1" height="8"/>
</g>
<g fill="#75F1B3">
<rect x="1104.25" y="592.5" width="19.25" height="18.3"/>
<rect x="1104.25" y="611.8" width="9.05" height="18.7"/>
<rect x="1114.3" y="611.8" width="9.2" height="18.7"/>
<rect x="1104.25" y="631.5" width="11.85" height="9.8"/>
<rect x="1104.25" y="642.3" width="11.85" height="1.8"/>
<rect x="1104.25" y="645.1" width="11.85" height="2.4"/>
<rect x="1117.1" y="631.5" width="2.6" height="7"/>
<rect x="1120.7" y="631.5" width="2.8" height="7"/>
<rect x="1117.1" y="639.5" width="6.4" height="8"/>
</g>
<g fill="#F4A58C">
<rect x="1025" y="638.25" width="26.4" height="36.25"/>
<rect x="1052.4" y="638.25" width="9.6" height="12.65"/>
<rect x="1063" y="638.25" width="9.6" height="12.65"/>
<rect x="1073.6" y="638.25" width="6.15" height="12.65"/>
<rect x="1052.4" y="651.9" width="9" height="8.2"/>
<rect x="1052.4" y="661.1" width="9" height="5.8"/>
<rect x="1052.4" y="667.9" width="9" height="6.6"/>
<rect x="1062.4" y="651.9" width="5.6" height="8.2"/>
<rect x="1069" y="651.9" width="5" height="8.2"/>
<rect x="1075" y="651.9" width="4.75" height="8.2"/>
<rect x="1062.4" y="661.1" width="4.4" height="6.2"/>
<rect x="1062.4" y="668.3" width="4.4" height="6.2"/>
<rect x="1067.8" y="661.1" width="11.95" height="13.4"/>
</g>
<g fill="#DD0E31">
<rect x="1082.5" y="650.25" width="10.9" height="13.05"/>
<rect x="1082.5" y="664.3" width="10.9" height="5.1"/>
<rect x="1082.5" y="670.4" width="10.9" height="4.1"/>
<rect x="1094.4" y="650.25" width="4.8" height="8.25"/>
<rect x="1100.2" y="650.25" width="3.9" height="8.25"/>
<rect x="1105.1" y="650.25" width="4.4" height="8.25"/>
<rect x="1094.4" y="659.5" width="7" height="5.4"/>
<rect x="1094.4" y="665.9" width="7" height="3.9"/>
<rect x="1094.4" y="670.8" width="7" height="3.7"/>
<rect x="1102.4" y="659.5" width="7.1" height="3"/>
<rect x="1102.4" y="663.5" width="7.1" height="11"/>
</g>
<g fill="#9CF2CF">
<rect x="1112.25" y="650.25" width="11.25" height="14.65"/>
<rect x="1112.25" y="665.9" width="5.65" height="4.6"/>
<rect x="1118.9" y="665.9" width="4.6" height="4.6"/>
</g>
<g fill="#847290">
<rect x="1112.25" y="672.75" width="11.25" height="1.75"/>
</g>
<g fill="#BC10CD">
<rect x="1142" y="161.75" width="221.9" height="179.85"/>
<rect x="1142" y="342.6" width="221.9" height="138.9"/>
<rect x="1364.9" y="161.75" width="135" height="131.25"/>
<rect x="1364.9" y="294" width="135" height="92.75"/>
<rect x="1364.9" y="387.75" width="135" height="93.75"/>
<rect x="1500.9" y="161.75" width="88.7" height="106"/>
<rect x="1590.6" y="161.75" width="88.15" height="106"/>
<rect x="1679.75" y="161.75" width="81.75" height="106"/>
<rect x="1500.9" y="268.75" width="95.85" height="66"/>
<rect x="1500.9" y="335.75" width="95.85" height="50"/>
<rect x="1500.9" y="386.75" width="95.85" height="47"/>
<rect x="1500.9" y="434.75" width="95.85" height="46.75"/>
<rect x="1597.75" y="268.75" width="58" height="72"/>
<rect x="1656.75" y="268.75" width="51.75" height="72"/>
<rect x="1709.5" y="268.75" width="52" height="72"/>
<rect x="1597.75" y="341.75" width="62" height="55"/>
<rect x="1597.75" y="397.75" width="62" height="43"/>
<rect x="1597.75" y="441.75" width="62" height="39.75"/>
<rect x="1660.75" y="341.75" width="36" height="50"/>
<rect x="1697.75" y="341.75" width="33" height="50"/>
<rect x="1731.75" y="341.75" width="29.75" height="50"/>
<rect x="1660.75" y="392.75" width="47" height="32.25"/>
<rect x="1660.75" y="426" width="47" height="28.5"/>
<rect x="1660.75" y="455.5" width="47" height="26"/>
<rect x="1708.75" y="392.75" width="18" height="34"/>
<rect x="1727.75" y="392.75" width="19" height="34"/>
<rect x="1747.75" y="392.75" width="13.75" height="34"/>
<rect x="1708.75" y="427.75" width="27" height="15"/>
<rect x="1708.75" y="443.75" width="27" height="12"/>
<rect x="1708.75" y="456.75" width="27" height="12"/>
<rect x="1708.75" y="469.75" width="27" height="11.75"/>
<rect x="1736.75" y="427.75" width="13" height="24"/>
<rect x="1750.75" y="427.75" width="10.75" height="24"/>
<rect x="1736.75" y="452.75" width="13.5" height="19.5"/>
<rect x="1751.25" y="452.75" width="10.25" height="19.5"/>
<rect x="1736.75" y="473.25" width="12.5" height="8.25"/>
<rect x="1750.25" y="473.25" width="8.75" height="8.25"/>
<rect x="1760" y="473.25" width="1.5" height="8.25"/>
</g>
<g fill="#C8140A">
<rect x="1142" y="485" width="179.1" height="189.5"/>
<rect x="1322.1" y="485" width="111.5" height="93.1"/>
<rect x="1322.1" y="579.1" width="111.5" height="95.4"/>
<rect x="1434.6" y="485" width="103.15" height="81.25"/>
<rect x="1434.6" y="567.25" width="103.15" height="54"/>
<rect x="1434.6" y="622.25" width="103.15" height="52.25"/>
<rect x="1538.75" y="485" width="87.15" height="55.25"/>
<rect x="1538.75" y="541.25" width="87.15" height="50.65"/>
<rect x="1538.75" y="592.9" width="87.15" height="43.35"/>
<rect x="1538.75" y="637.25" width="87.15" height="37.25"/>
<rect x="1626.9" y="485" width="46" height="59.25"/>
<rect x="1673.9" y="485" width="44.85" height="59.25"/>
<rect x="1719.75" y="485" width="41.75" height="59.25"/>
<rect x="1626.9" y="545.25" width="51.85" height="45.25"/>
<rect x="1626.9" y="591.5" width="51.85" height="41.25"/>
<rect x="1626.9" y="633.75" width="51.85" height="40.75"/>
<rect x="1679.75" y="545.25" width="43" height="41.5"/>
<rect x="1723.75" y="545.25" width="37.75" height="41.5"/>
<rect x="1679.75" y="587.75" width="24" height="36.5"/>
<rect x="1704.75" y="587.75" width="20" height="36.5"/>
<rect x="1725.75" y="587.75" width="19" height="36.5"/>
<rect x="1745.75" y="587.75" width="15.75" height="36.5"/>
<rect x="1679.75" y="625.25" width="29" height="20.5"/>
<rect x="1679.75" y="646.75" width="29" height="14"/>
<rect x="1679.75" y="661.75" width="29" height="12.75"/>
<rect x="1709.75" y="625.25" width="19.5" height="17.75"/>
<rect x="1709.75" y="644" width="19.5" height="16.5"/>
<rect x="1709.75" y="661.5" width="19.5" height="13"/>
<rect x="1730.25" y="625.25" width="12" height="20"/>
<rect x="1743.25" y="625.25" width="9.5" height="20"/>
<rect x="1753.75" y="625.25" width="7.75" height="20"/>
<rect x="1730.25" y="646.25" width="14.75" height="8.75"/>
<rect x="1730.25" y="656" width="14.75" height="9.5"/>
<rect x="1730.25" y="666.5" width="14.75" height="8"/>
<rect x="1746" y="646.25" width="8.5" height="12.75"/>
<rect x="1746" y="660" width="8.5" height="6.5"/>
<rect x="1746" y="667.5" width="8.5" height="7"/>
<rect x="1755.5" y="646.25" width="6" height="12.75"/>
<rect x="1755.5" y="660" width="6" height="5.5"/>
<rect x="1755.5" y="666.5" width="6" height="8"/>
</g>
<g fill="#0669FF">
<rect x="1764.5" y="161.75" width="93" height="208.05"/>
<rect x="1764.5" y="370.8" width="54" height="43.1"/>
<rect x="1819.5" y="370.8" width="38" height="34.2"/>
<rect x="1819.5" y="406" width="9.9" height="7.9"/>
<rect x="1830.4" y="406" width="9" height="7.9"/>
<rect x="1840.4" y="406" width="17.1" height="7.9"/>
</g>
<g fill="#FFDC00">
<rect x="1764.5" y="417" width="54.75" height="69.75"/>
<rect x="1820.25" y="417" width="37.25" height="69.75"/>
<rect x="1764.5" y="487.75" width="37.75" height="38.95"/>
<rect x="1764.5" y="527.7" width="37.75" height="29.8"/>
<rect x="1803.25" y="487.75" width="28.25" height="33.95"/>
<rect x="1832.5" y="487.75" width="25" height="33.95"/>
<rect x="1803.25" y="522.7" width="17.15" height="17.6"/>
<rect x="1803.25" y="541.3" width="17.15" height="16.2"/>
<rect x="1821.4" y="522.7" width="9.8" height="15.8"/>
<rect x="1832.2" y="522.7" width="8.2" height="15.8"/>
<rect x="1841.4" y="522.7" width="8.1" height="15.8"/>
<rect x="1850.5" y="522.7" width="7" height="15.8"/>
<rect x="1821.4" y="539.5" width="9.2" height="9.1"/>
<rect x="1821.4" y="549.6" width="9.2" height="7.9"/>
<rect x="1831.6" y="539.5" width="8.1" height="7"/>
<rect x="1831.6" y="547.5" width="8.1" height="4.8"/>
<rect x="1831.6" y="553.3" width="8.1" height="4.2"/>
<rect x="1840.7" y="539.5" width="16.8" height="18"/>
</g>
<g fill="#1BB659">
<rect x="1764.5" y="560.5" width="60.9" height="68.9"/>
<rect x="1826.4" y="560.5" width="31.1" height="68.9"/>
<rect x="1764.5" y="630.4" width="36.1" height="27.1"/>
<rect x="1801.6" y="630.4" width="29.9" height="13.1"/>
<rect x="1801.6" y="644.5" width="29.9" height="13"/>
<rect x="1832.5" y="630.4" width="15" height="21"/>
<rect x="1832.5" y="652.4" width="15" height="5.1"/>
<rect x="1848.5" y="630.4" width="9" height="21"/>
<rect x="1848.5" y="652.4" width="9" height="5.1"/>
</g>
<g fill="#FF9600">
<rect x="1764.5" y="660.2" width="80.2" height="14.55"/>
<rect x="1845.7" y="660.2" width="11.1" height="11.2"/>
<rect x="1845.7" y="672.4" width="11.1" height="2.35"/>
</g>
<rect x="1750.25" y="477" width="8.75" height="1" fill="#343a45"/>
<text x="35.1" y="61.4" font-size="33.8" fill="#fff" textLength="222.5" lengthAdjust="spacingAndGlyphs" font-weight="bold">Yearly Imports</text>
<text x="35.1" y="98.5" font-size="12.29" fill="#fff" textLength="33" lengthAdjust="spacingAndGlyphs" font-weight="bold">Value</text>
<text x="35.1" y="145.7" font-size="12.29" fill="#fff" textLength="36" lengthAdjust="spacingAndGlyphs" font-weight="bold">Depth</text>
<text x="35.1" y="193" font-size="12.29" fill="#fff" textLength="26" lengthAdjust="spacingAndGlyphs" font-weight="bold">Year</text>
<rect x="86.5" y="78.5" width="288" height="31" fill="none" stroke="#fff" stroke-width="1"/>
<rect x="86" y="78" width="106" height="32" fill="#fff"/>
<rect x="271" y="78" width="1" height="32" fill="#fff"/>
<text x="105.4" y="98.7" font-size="12.43" fill="#343a45" textLength="67.4" lengthAdjust="spacingAndGlyphs">Trade Value</text>
<text x="209.8" y="98.7" font-size="12.43" fill="#86a2bb" textLength="42.8" lengthAdjust="spacingAndGlyphs">Growth</text>
<text x="289.5" y="98.7" font-size="12.43" fill="#86a2bb" textLength="66" lengthAdjust="spacingAndGlyphs">Growth (%)</text>
<rect x="86.5" y="125.5" width="288" height="31" fill="none" stroke="#fff" stroke-width="1"/>
<rect x="182" y="125" width="97" height="32" fill="#fff"/>
<text x="123.4" y="145.7" font-size="12.43" fill="#86a2bb" textLength="22.6" lengthAdjust="spacingAndGlyphs">HS2</text>
<text x="219.3" y="145.7" font-size="12.43" fill="#343a45" textLength="22.4" lengthAdjust="spacingAndGlyphs">HS4</text>
<text x="314.8" y="145.7" font-size="12.43" fill="#86a2bb" textLength="23.2" lengthAdjust="spacingAndGlyphs">HS6</text>
<rect x="86.5" y="172.5" width="288" height="32" fill="none" stroke="#fff" stroke-width="1"/>
<text x="93.7" y="193.2" font-size="12.57" fill="#fff" textLength="28.3" lengthAdjust="spacingAndGlyphs" font-weight="bold">2019</text>
<path d="M358.4 188 h9.4 l-4.7 4.8z" fill="#b4b9c1"/>
<text x="35.5" y="245.8" font-size="16.76" fill="#c3cdd8" textLength="130.9" lengthAdjust="spacingAndGlyphs">TOP IMPORT (2019)</text>
<text x="220.5" y="245.8" font-size="16.76" fill="#c3cdd8" textLength="126" lengthAdjust="spacingAndGlyphs">TOP ORIGIN (2019)</text>
<text x="35.5" y="278.1" font-size="24.58" fill="#8fb9d9" textLength="54.2" lengthAdjust="spacingAndGlyphs">Gold</text>
<rect x="35.2" y="281" width="54.8" height="1.5" fill="#8fb9d9"/>
<text x="220.5" y="278.1" font-size="24.58" fill="#8fb9d9" textLength="106" lengthAdjust="spacingAndGlyphs">Germany</text>
<rect x="220.2" y="281" width="106.4" height="1.5" fill="#8fb9d9"/>
<text x="35.5" y="300.9" font-size="16.34" fill="#d5d9de" textLength="51.7" lengthAdjust="spacingAndGlyphs" font-weight="bold">$11.5B</text>
<text x="220.5" y="300.9" font-size="16.34" fill="#d5d9de" textLength="51.9" lengthAdjust="spacingAndGlyphs" font-weight="bold">$21.2B</text>
<text x="35.5" y="347.9" font-size="14.66" fill="#f4f5f7" textLength="289.8" lengthAdjust="spacingAndGlyphs">In 2019 Turkey imported $193B, making it the</text>
<text x="35.5" y="371.9" font-size="14.66" fill="#f4f5f7" textLength="337.2" lengthAdjust="spacingAndGlyphs">number 26 trade destination in the world. During the</text>
<text x="35.5" y="395.9" font-size="14.66" fill="#f4f5f7" textLength="284.9" lengthAdjust="spacingAndGlyphs">last five reported years the imports of Turkey</text>
<text x="35.5" y="419.9" font-size="14.66" fill="#f4f5f7" textLength="326.5" lengthAdjust="spacingAndGlyphs">changed by -$25.6B from $218B in 2014 to $193B in</text>
<text x="35.5" y="443.9" font-size="14.66" fill="#f4f5f7" textLength="33.5" lengthAdjust="spacingAndGlyphs">2019.</text>
<text x="35.5" y="479.7" font-size="14.66" fill="#f4f5f7" textLength="320.1" lengthAdjust="spacingAndGlyphs">The most recent imports of Turkey are led by <tspan fill="#86b1d4">Gold</tspan></text>
<text x="36.2" y="503.7" font-size="14.66" fill="#f4f5f7" textLength="284.2" lengthAdjust="spacingAndGlyphs">($11.5B), <tspan fill="#86b1d4">Refined Petroleum</tspan> ($9.92B), <tspan fill="#86b1d4">Crude</tspan></text>
<text x="35.5" y="527.7" font-size="14.66" fill="#f4f5f7" textLength="303.1" lengthAdjust="spacingAndGlyphs"><tspan fill="#86b1d4">Petroleum</tspan> ($6.55B), <tspan fill="#86b1d4">Vehicle Parts</tspan> ($5.72B), and</text>
<text x="35.5" y="551.7" font-size="14.66" fill="#f4f5f7" textLength="299.5" lengthAdjust="spacingAndGlyphs"><tspan fill="#86b1d4">Scrap Iron</tspan> ($5.19B). The most common import</text>
<text x="35.5" y="575.7" font-size="14.66" fill="#f4f5f7" textLength="308.9" lengthAdjust="spacingAndGlyphs">partners for Turkey are <tspan fill="#86b1d4">Germany</tspan> ($21.2B), <tspan fill="#86b1d4">China</tspan></text>
<text x="36.2" y="599.7" font-size="14.66" fill="#f4f5f7" textLength="310.9" lengthAdjust="spacingAndGlyphs">($18.2B), <tspan fill="#86b1d4">Russia</tspan> ($16.4B), <tspan fill="#86b1d4">United States</tspan> ($10.4B),</text>
<text x="35.5" y="623.7" font-size="14.66" fill="#f4f5f7" textLength="107.3" lengthAdjust="spacingAndGlyphs">and <tspan fill="#86b1d4">Italy</tspan> ($9.4B).</text>
<rect x="35.1" y="642.1" width="339.9" height="39.8" fill="#3d71a6"/>
<text x="133.5" y="667.7" font-size="15.36" fill="#fff" textLength="143.5" lengthAdjust="spacingAndGlyphs" stroke="#fff" stroke-width="0.35">Explore Visualizations</text>
<text x="35.5" y="710.1" font-size="15.36" fill="#d8dce1" textLength="284.9" lengthAdjust="spacingAndGlyphs">Data from <tspan text-decoration="underline" fill="#e9ebee">BACI</tspan> <tspan fill="#8fa9c2">HS6 REV. 1992 (1995 - 2019).</tspan></text>
<text x="709" y="103.2" font-size="17.18" fill="#fff" textLength="112" lengthAdjust="spacingAndGlyphs" font-weight="bold">Imports (2019)</text>
<text x="712" y="122.9" font-size="14.66" fill="#fff" textLength="106" lengthAdjust="spacingAndGlyphs" font-weight="bold">[Click to Select]</text>
<text x="720" y="147.4" font-size="16.48" fill="#fff" textLength="90.6" lengthAdjust="spacingAndGlyphs">Total: $193B</text>
<rect x="1022" y="47" width="103" height="29.75" fill="#222833"/>
<rect x="1031.9" y="55.9" width="14.2" height="12.2" fill="#a0b9cd" rx="1"/>
<rect x="1033.6" y="59.6" width="3.3" height="1.4" fill="#222833"/>
<rect x="1038.2" y="59.6" width="6.1" height="1.4" fill="#222833"/>
<rect x="1033.6" y="62.2" width="3.3" height="1.4" fill="#222833"/>
<rect x="1038.2" y="62.2" width="6.1" height="1.4" fill="#222833"/>
<rect x="1033.6" y="64.8" width="3.3" height="1.4" fill="#222833"/>
<rect x="1038.2" y="64.8" width="6.1" height="1.4" fill="#222833"/>
<rect x="1065.9" y="56.7" width="14.2" height="10.5" fill="#a0b9cd" rx="1"/>
<rect x="1067.7" y="58.5" width="10.6" height="6.9" fill="#222833"/>
<path d="M1067.7 65.4 l2.6 -4.6 l1.9 2.9 l1.5 -1.5 l4.6 3.2z" fill="#a0b9cd"/>
<circle cx="1076.6" cy="60.3" r="0.9" fill="#a0b9cd"/>
<path d="M1106.7 58.85 h-5.6 v9.2 h9.2 v-4.6" fill="none" stroke="#a0b9cd" stroke-width="2.1"/>
<path d="M1106.5 62.7 l7 -7" fill="none" stroke="#a0b9cd" stroke-width="2.1"/>
<path d="M1108.4 54.9 h5.8 v5.8z" fill="#a0b9cd"/>
<text x="1445.7" y="103.2" font-size="17.18" fill="#fff" textLength="106.6" lengthAdjust="spacingAndGlyphs" font-weight="bold">Origins (2019)</text>
<text x="1446" y="122.9" font-size="14.66" fill="#fff" textLength="106" lengthAdjust="spacingAndGlyphs" font-weight="bold">[Click to Select]</text>
<text x="1454" y="147.4" font-size="16.48" fill="#fff" textLength="90.6" lengthAdjust="spacingAndGlyphs">Total: $193B</text>
<rect x="1756" y="47" width="103" height="29.75" fill="#222833"/>
<rect x="1765.9" y="55.9" width="14.2" height="12.2" fill="#a0b9cd" rx="1"/>
<rect x="1767.6" y="59.6" width="3.3" height="1.4" fill="#222833"/>
<rect x="1772.2" y="59.6" width="6.1" height="1.4" fill="#222833"/>
<rect x="1767.6" y="62.2" width="3.3" height="1.4" fill="#222833"/>
<rect x="1772.2" y="62.2" width="6.1" height="1.4" fill="#222833"/>
<rect x="1767.6" y="64.8" width="3.3" height="1.4" fill="#222833"/>
<rect x="1772.2" y="64.8" width="6.1" height="1.4" fill="#222833"/>
<rect x="1799.9" y="56.7" width="14.2" height="10.5" fill="#a0b9cd" rx="1"/>
<rect x="1801.7" y="58.5" width="10.6" height="6.9" fill="#222833"/>
<path d="M1801.7 65.4 l2.6 -4.6 l1.9 2.9 l1.5 -1.5 l4.6 3.2z" fill="#a0b9cd"/>
<circle cx="1810.6" cy="60.3" r="0.9" fill="#a0b9cd"/>
<path d="M1840.7 58.85 h-5.6 v9.2 h9.2 v-4.6" fill="none" stroke="#a0b9cd" stroke-width="2.1"/>
<path d="M1840.5 62.7 l7 -7" fill="none" stroke="#a0b9cd" stroke-width="2.1"/>
<path d="M1842.4 54.9 h5.8 v5.8z" fill="#a0b9cd"/>
<text x="417" y="179.25" font-size="7.68" fill="#444444" textLength="43.75" lengthAdjust="spacingAndGlyphs">Broadcasting</text>
<text x="417" y="189.25" font-size="7.68" fill="#444444" textLength="36.75" lengthAdjust="spacingAndGlyphs">Equipment</text>
<text x="417" y="250" font-size="7.68" fill="#444444" textLength="46.25" lengthAdjust="spacingAndGlyphs">Combustion...</text>
<text x="417" y="306.75" font-size="7.68" fill="#444444" textLength="42.5" lengthAdjust="spacingAndGlyphs">Gas Turbines</text>
<text x="747.5" y="179.25" font-size="7.68" fill="#444444" textLength="31.75" lengthAdjust="spacingAndGlyphs">Packaged</text>
<text x="747.5" y="189.25" font-size="7.68" fill="#444444" textLength="44.5" lengthAdjust="spacingAndGlyphs">Medicaments</text>
<text x="819.5" y="179.25" font-size="7.68" fill="#444444" textLength="19.5" lengthAdjust="spacingAndGlyphs">Blood,</text>
<text x="819.5" y="189.25" font-size="7.68" fill="#444444" textLength="32.5" lengthAdjust="spacingAndGlyphs">antisera...</text>
<text x="902.5" y="187.5" font-size="16.76" fill="#444444" textLength="53" lengthAdjust="spacingAndGlyphs">Vehicle</text>
<text x="902.5" y="208.5" font-size="16.76" fill="#444444" textLength="37.5" lengthAdjust="spacingAndGlyphs">Parts</text>
<text x="978.75" y="178.75" font-size="6.98" fill="#444444" textLength="27.5" lengthAdjust="spacingAndGlyphs">Planes...</text>
<text x="903" y="335" font-size="18.85" fill="#444444" textLength="44.5" lengthAdjust="spacingAndGlyphs">Cars</text>
<text x="1031.75" y="180" font-size="8.03" fill="#444444" textLength="37.75" lengthAdjust="spacingAndGlyphs">Propylene</text>
<text x="1031.75" y="190.75" font-size="8.03" fill="#444444" textLength="34.75" lengthAdjust="spacingAndGlyphs">Polymers</text>
<text x="417.5" y="412" font-size="19.9" fill="#f7f7f7" textLength="72" lengthAdjust="spacingAndGlyphs">Refined</text>
<text x="417.5" y="440" font-size="19.9" fill="#f7f7f7" textLength="99" lengthAdjust="spacingAndGlyphs">Petroleum</text>
<text x="541.25" y="407.75" font-size="15.01" fill="#f7f7f7" textLength="120" lengthAdjust="spacingAndGlyphs">Crude Petroleum</text>
<text x="541.25" y="492" font-size="13.27" fill="#f7f7f7" textLength="85.75" lengthAdjust="spacingAndGlyphs">Petroleum Gas</text>
<text x="684.25" y="400.75" font-size="7.68" fill="#f7f7f7" textLength="17" lengthAdjust="spacingAndGlyphs">Coal</text>
<text x="684.25" y="411.25" font-size="7.68" fill="#f7f7f7" textLength="39" lengthAdjust="spacingAndGlyphs">Briquettes</text>
<text x="748.75" y="472" font-size="48.18" fill="#f7f7f7" textLength="94.75" lengthAdjust="spacingAndGlyphs">Gold</text>
<text x="417" y="560.75" font-size="16.41" fill="#f7f7f7" textLength="76.25" lengthAdjust="spacingAndGlyphs">Scrap Iron</text>
<text x="417" y="651.5" font-size="6.98" fill="#f7f7f7" textLength="51" lengthAdjust="spacingAndGlyphs">Hot-Rolled Iron</text>
<text x="515.75" y="552.75" font-size="6.98" fill="#f7f7f7" textLength="20" lengthAdjust="spacingAndGlyphs">Raw...</text>
<text x="515.75" y="609.5" font-size="6.98" fill="#f7f7f7" textLength="31.25" lengthAdjust="spacingAndGlyphs">Refined...</text>
<text x="574.75" y="552.75" font-size="6.98" fill="#f7f7f7" textLength="25.25" lengthAdjust="spacingAndGlyphs">Semi-...</text>
<text x="747.5" y="577" font-size="6.98" fill="#f7f7f7" textLength="22" lengthAdjust="spacingAndGlyphs">Non-...</text>
<text x="747.5" y="635.75" font-size="6.98" fill="#f7f7f7" textLength="20" lengthAdjust="spacingAndGlyphs">Raw...</text>
<text x="927" y="439" font-size="12.57" fill="#444444" textLength="36" lengthAdjust="spacingAndGlyphs">Wheat</text>
<text x="421.25" y="216.5" font-size="13.97" fill="#444444" textLength="39.5" lengthAdjust="spacingAndGlyphs">1.35%</text>
<text x="494.25" y="189.25" font-size="6.98" fill="#444444" textLength="16" lengthAdjust="spacingAndGlyphs">0.6%</text>
<text x="423.27" y="273.75" font-size="12.92" fill="#444444" textLength="35.25" lengthAdjust="spacingAndGlyphs">1.08%</text>
<text x="424.5" y="330.5" font-size="11.87" fill="#444444" textLength="32.5" lengthAdjust="spacingAndGlyphs">1.07%</text>
<text x="753.23" y="215" font-size="13.27" fill="#444444" textLength="39.75" lengthAdjust="spacingAndGlyphs">1.37%</text>
<text x="820" y="215" font-size="12.22" fill="#444444" textLength="35" lengthAdjust="spacingAndGlyphs">1.08%</text>
<text x="903.75" y="286.75" font-size="18.16" fill="#444444" textLength="52.5" lengthAdjust="spacingAndGlyphs">2.97%</text>
<text x="979.23" y="286.75" font-size="19.9" fill="#444444" textLength="27.75" lengthAdjust="spacingAndGlyphs">2%</text>
<text x="904.48" y="375" font-size="18.16" fill="#444444" textLength="52.25" lengthAdjust="spacingAndGlyphs">1.88%</text>
<text x="1033" y="226.75" font-size="12.92" fill="#444444" textLength="37" lengthAdjust="spacingAndGlyphs">1.39%</text>
<text x="1093" y="228.75" font-size="6.63" fill="#444444" textLength="20" lengthAdjust="spacingAndGlyphs">0.93%</text>
<text x="1032" y="278.75" font-size="7.68" fill="#444444" textLength="22.5" lengthAdjust="spacingAndGlyphs">0.63%</text>
<text x="425.75" y="511.5" font-size="30.03" fill="#f7f7f7" textLength="86" lengthAdjust="spacingAndGlyphs">5.15%</text>
<text x="575.75" y="449.5" font-size="22.7" fill="#f7f7f7" textLength="52.5" lengthAdjust="spacingAndGlyphs">3.4%</text>
<text x="580.48" y="516.5" font-size="15.01" fill="#f7f7f7" textLength="43.25" lengthAdjust="spacingAndGlyphs">2.52%</text>
<text x="685.52" y="444" font-size="13.27" fill="#f7f7f7" textLength="37.75" lengthAdjust="spacingAndGlyphs">1.29%</text>
<text x="766.25" y="533.5" font-size="34.22" fill="#f7f7f7" textLength="94.5" lengthAdjust="spacingAndGlyphs">5.97%</text>
<text x="426.77" y="613.25" font-size="25.84" fill="#f7f7f7" textLength="58.25" lengthAdjust="spacingAndGlyphs">2.7%</text>
<text x="445.75" y="661.75" font-size="6.63" fill="#f7f7f7" textLength="20.5" lengthAdjust="spacingAndGlyphs">1.09%</text>
<text x="519.98" y="577.75" font-size="10.47" fill="#f7f7f7" textLength="30.25" lengthAdjust="spacingAndGlyphs">0.92%</text>
<text x="521.25" y="629" font-size="9.78" fill="#f7f7f7" textLength="28" lengthAdjust="spacingAndGlyphs">0.83%</text>
<text x="578.25" y="562.75" font-size="6.28" fill="#f7f7f7" textLength="16.5" lengthAdjust="spacingAndGlyphs">0.5%</text>
<text x="748.75" y="604" font-size="9.78" fill="#f7f7f7" textLength="27" lengthAdjust="spacingAndGlyphs">0.84%</text>
<text x="748.75" y="661" font-size="9.78" fill="#f7f7f7" textLength="27" lengthAdjust="spacingAndGlyphs">0.81%</text>
<text x="929.52" y="465" font-size="12.92" fill="#444444" textLength="34.75" lengthAdjust="spacingAndGlyphs">1.11%</text>
<text x="1153.25" y="215.5" font-size="46.09" fill="#f7f7f7" textLength="188.5" lengthAdjust="spacingAndGlyphs">Germany</text>
<text x="1154.25" y="397" font-size="46.09" fill="#f7f7f7" textLength="130.75" lengthAdjust="spacingAndGlyphs">Russia</text>
<text x="1377.5" y="213.75" font-size="43.65" fill="#f7f7f7" textLength="83.25" lengthAdjust="spacingAndGlyphs">Italy</text>
<text x="1376.25" y="328" font-size="24.09" fill="#f7f7f7" textLength="78.75" lengthAdjust="spacingAndGlyphs">France</text>
<text x="1375.5" y="411.25" font-size="14.66" fill="#f7f7f7" textLength="107.75" lengthAdjust="spacingAndGlyphs">United Kingdom</text>
<text x="1511.25" y="183" font-size="12.22" fill="#f7f7f7" textLength="66.25" lengthAdjust="spacingAndGlyphs">Netherlands</text>
<text x="1601.5" y="195.75" font-size="24.79" fill="#f7f7f7" textLength="62.25" lengthAdjust="spacingAndGlyphs">Spain</text>
<text x="1690.25" y="187" font-size="15.71" fill="#f7f7f7" textLength="57.5" lengthAdjust="spacingAndGlyphs">Belgium</text>
<text x="1511.25" y="290.75" font-size="12.57" fill="#f7f7f7" textLength="68.25" lengthAdjust="spacingAndGlyphs">Switzerland</text>
<text x="1607.75" y="288.75" font-size="11.17" fill="#f7f7f7" textLength="34.5" lengthAdjust="spacingAndGlyphs">Poland</text>
<text x="1667" y="287.25" font-size="8.38" fill="#f7f7f7" textLength="28.75" lengthAdjust="spacingAndGlyphs">Czechia</text>
<text x="1719.5" y="288.75" font-size="9.78" fill="#f7f7f7" textLength="31.75" lengthAdjust="spacingAndGlyphs">Greece</text>
<text x="1511.25" y="355.75" font-size="10.47" fill="#f7f7f7" textLength="43.75" lengthAdjust="spacingAndGlyphs">Romania</text>
<text x="1511.25" y="405.75" font-size="9.43" fill="#f7f7f7" textLength="33.75" lengthAdjust="spacingAndGlyphs">Bulgaria</text>
<text x="1511.25" y="452.75" font-size="9.43" fill="#f7f7f7" textLength="31.75" lengthAdjust="spacingAndGlyphs">Ukraine</text>
<text x="1607.75" y="361.25" font-size="10.13" fill="#f7f7f7" textLength="39.25" lengthAdjust="spacingAndGlyphs">Hungary</text>
<text x="1607.75" y="415" font-size="6.98" fill="#f7f7f7" textLength="26.25" lengthAdjust="spacingAndGlyphs">Sweden</text>
<text x="1607.75" y="458.75" font-size="6.98" fill="#f7f7f7" textLength="23.5" lengthAdjust="spacingAndGlyphs">Austria</text>
<text x="1775.25" y="193.75" font-size="23.39" fill="#f7f7f7" textLength="68.5" lengthAdjust="spacingAndGlyphs">United</text>
<text x="1775.25" y="223.25" font-size="23.39" fill="#f7f7f7" textLength="63" lengthAdjust="spacingAndGlyphs">States</text>
<text x="1775" y="387.75" font-size="6.98" fill="#f7f7f7" textLength="25" lengthAdjust="spacingAndGlyphs">Canada</text>
<text x="1775.25" y="438.25" font-size="11.52" fill="#444444" textLength="33" lengthAdjust="spacingAndGlyphs">Egypt</text>
<text x="1775.25" y="584.5" font-size="14.66" fill="#f7f7f7" textLength="36.75" lengthAdjust="spacingAndGlyphs">Brazil</text>
<text x="1153.9" y="539.3" font-size="46.09" fill="#f7f7f7" textLength="116.2" lengthAdjust="spacingAndGlyphs">China</text>
<text x="1332" y="509.5" font-size="15.71" fill="#f7f7f7" textLength="86.25" lengthAdjust="spacingAndGlyphs">South Korea</text>
<text x="1333" y="615.25" font-size="25.84" fill="#f7f7f7" textLength="61.25" lengthAdjust="spacingAndGlyphs">India</text>
<text x="1445" y="505" font-size="11.17" fill="#f7f7f7" textLength="58.75" lengthAdjust="spacingAndGlyphs">United Arab</text>
<text x="1445" y="520" font-size="11.17" fill="#f7f7f7" textLength="43.25" lengthAdjust="spacingAndGlyphs">Emirates</text>
<text x="1445" y="589" font-size="12.22" fill="#f7f7f7" textLength="33" lengthAdjust="spacingAndGlyphs">Japan</text>
<text x="1445" y="642.75" font-size="11.17" fill="#f7f7f7" textLength="52" lengthAdjust="spacingAndGlyphs">Azerbaijan</text>
<text x="1549.25" y="507" font-size="12.22" fill="#f7f7f7" textLength="22" lengthAdjust="spacingAndGlyphs">Iraq</text>
<text x="1549.25" y="559.75" font-size="9.78" fill="#f7f7f7" textLength="47" lengthAdjust="spacingAndGlyphs">Kazakhstan</text>
<text x="1549.25" y="610.75" font-size="7.68" fill="#f7f7f7" textLength="41.25" lengthAdjust="spacingAndGlyphs">Saudi Arabia</text>
<text x="1637" y="507" font-size="12.22" fill="#f7f7f7" textLength="22.5" lengthAdjust="spacingAndGlyphs">Iran</text>
<text x="1683.75" y="503.75" font-size="9.43" fill="#f7f7f7" textLength="25" lengthAdjust="spacingAndGlyphs">Israel</text>
<text x="1637" y="609" font-size="7.68" fill="#f7f7f7" textLength="31.75" lengthAdjust="spacingAndGlyphs">Chinese...</text>
<text x="1218.75" y="318.75" font-size="36.66" fill="#f7f7f7" textLength="70" lengthAdjust="spacingAndGlyphs">11%</text>
<text x="1212.53" y="457.75" font-size="34.22" fill="#f7f7f7" textLength="80.75" lengthAdjust="spacingAndGlyphs">8.5%</text>
<text x="1386.72" y="270" font-size="30.38" fill="#f7f7f7" textLength="90.75" lengthAdjust="spacingAndGlyphs">4.88%</text>
<text x="1395.75" y="365.75" font-size="24.44" fill="#f7f7f7" textLength="73.5" lengthAdjust="spacingAndGlyphs">3.48%</text>
<text x="1395.75" y="461.25" font-size="24.44" fill="#f7f7f7" textLength="73.5" lengthAdjust="spacingAndGlyphs">3.48%</text>
<text x="1512.53" y="249.5" font-size="22.7" fill="#f7f7f7" textLength="65.75" lengthAdjust="spacingAndGlyphs">2.63%</text>
<text x="1602" y="249.5" font-size="22.7" fill="#f7f7f7" textLength="65.5" lengthAdjust="spacingAndGlyphs">2.63%</text>
<text x="1690.25" y="249.5" font-size="20.95" fill="#f7f7f7" textLength="61" lengthAdjust="spacingAndGlyphs">2.42%</text>
<text x="1526.75" y="318.75" font-size="15.71" fill="#f7f7f7" textLength="44.5" lengthAdjust="spacingAndGlyphs">1.77%</text>
<text x="1609.5" y="325.75" font-size="12.22" fill="#f7f7f7" textLength="34.5" lengthAdjust="spacingAndGlyphs">1.18%</text>
<text x="1667.72" y="326.75" font-size="10.47" fill="#f7f7f7" textLength="29.75" lengthAdjust="spacingAndGlyphs">1.05%</text>
<text x="1720.75" y="326.75" font-size="10.47" fill="#f7f7f7" textLength="30" lengthAdjust="spacingAndGlyphs">1.05%</text>
<text x="1533.75" y="371.5" font-size="10.47" fill="#f7f7f7" textLength="30" lengthAdjust="spacingAndGlyphs">1.36%</text>
<text x="1536.75" y="420.75" font-size="8.73" fill="#f7f7f7" textLength="24.5" lengthAdjust="spacingAndGlyphs">1.27%</text>
<text x="1536.75" y="467.75" font-size="8.73" fill="#f7f7f7" textLength="24.5" lengthAdjust="spacingAndGlyphs">1.24%</text>
<text x="1611.97" y="382.75" font-size="11.52" fill="#f7f7f7" textLength="33.25" lengthAdjust="spacingAndGlyphs">0.95%</text>
<text x="1617" y="427.5" font-size="7.33" fill="#f7f7f7" textLength="23" lengthAdjust="spacingAndGlyphs">0.76%</text>
<text x="1620.22" y="468.75" font-size="6.63" fill="#f7f7f7" textLength="16.75" lengthAdjust="spacingAndGlyphs">0.7%</text>
<text x="1775.78" y="350.75" font-size="24.44" fill="#f7f7f7" textLength="71.25" lengthAdjust="spacingAndGlyphs">5.41%</text>
<text x="1779.97" y="400.25" font-size="6.98" fill="#f7f7f7" textLength="23.25" lengthAdjust="spacingAndGlyphs">0.68%</text>
<text x="1776.25" y="471.25" font-size="12.92" fill="#444444" textLength="32" lengthAdjust="spacingAndGlyphs">1.1%</text>
<text x="1776.28" y="614.5" font-size="12.92" fill="#f7f7f7" textLength="38.25" lengthAdjust="spacingAndGlyphs">1.22%</text>
<text x="1181.22" y="651.5" font-size="35.61" fill="#f7f7f7" textLength="100.75" lengthAdjust="spacingAndGlyphs">9.43%</text>
<text x="1343.72" y="559.75" font-size="23.74" fill="#f7f7f7" textLength="68.75" lengthAdjust="spacingAndGlyphs">2.97%</text>
<text x="1342.53" y="655.25" font-size="24.44" fill="#f7f7f7" textLength="70.75" lengthAdjust="spacingAndGlyphs">2.94%</text>
<text x="1455.47" y="548.5" font-size="20.95" fill="#f7f7f7" textLength="61.25" lengthAdjust="spacingAndGlyphs">2.36%</text>
<text x="1470" y="606.5" font-size="11.17" fill="#f7f7f7" textLength="32.5" lengthAdjust="spacingAndGlyphs">1.54%</text>
<text x="1474.53" y="660.75" font-size="10.47" fill="#f7f7f7" textLength="23.75" lengthAdjust="spacingAndGlyphs">1.5%</text>
<text x="1565" y="525.5" font-size="12.22" fill="#f7f7f7" textLength="34.5" lengthAdjust="spacingAndGlyphs">1.38%</text>
<text x="1567" y="578.5" font-size="9.78" fill="#f7f7f7" textLength="30" lengthAdjust="spacingAndGlyphs">1.27%</text>
<text x="1570.75" y="623.5" font-size="7.68" fill="#f7f7f7" textLength="23" lengthAdjust="spacingAndGlyphs">1.05%</text>
<text x="1637" y="530.75" font-size="8.73" fill="#f7f7f7" textLength="25.5" lengthAdjust="spacingAndGlyphs">0.78%</text>
<text x="1684.03" y="531.5" font-size="8.38" fill="#f7f7f7" textLength="23.75" lengthAdjust="spacingAndGlyphs">0.78%</text>
<text x="1729.97" y="532" font-size="6.98" fill="#f7f7f7" textLength="21.25" lengthAdjust="spacingAndGlyphs">0.72%</text>
<text x="1640.78" y="577.75" font-size="7.68" fill="#f7f7f7" textLength="23.25" lengthAdjust="spacingAndGlyphs">0.67%</text>
<text x="1644.47" y="619.5" font-size="6.63" fill="#f7f7f7" textLength="16.25" lengthAdjust="spacingAndGlyphs">0.6%</text>
<text x="1644.47" y="661.5" font-size="6.63" fill="#f7f7f7" textLength="16.25" lengthAdjust="spacingAndGlyphs">0.6%</text>
<text x="1690.75" y="574.75" font-size="6.63" fill="#f7f7f7" textLength="20.5" lengthAdjust="spacingAndGlyphs">0.54%</text>
<g transform="translate(452.3,681)"><rect width="25" height="25" fill="#2E97FF"/><g fill="none" stroke="#fff" stroke-width="1" stroke-linejoin="round" stroke-linecap="round" opacity="0.92"><path d="M12.40,4.15 L12.72,4.16 L13.04,4.20 L13.35,4.30 L13.62,4.61 L13.79,5.29 L13.92,5.97 L14.10,6.29 L14.31,6.43 L14.53,6.53 L14.75,6.62 L14.98,6.71 L15.20,6.80 L15.45,6.85 L15.80,6.75 L16.37,6.35 L16.98,6.00 L17.39,5.98 L17.68,6.12 L17.93,6.32 L18.16,6.54 L18.38,6.77 L18.58,7.02 L18.72,7.31 L18.70,7.72 L18.35,8.33 L17.95,8.90 L17.85,9.25 L17.90,9.50 L17.99,9.72 L18.08,9.95 L18.17,10.17 L18.27,10.39 L18.41,10.60 L18.73,10.78 L19.41,10.91 L20.09,11.08 L20.40,11.35 L20.50,11.66 L20.54,11.98 L20.55,12.30 L20.54,12.62 L20.50,12.94 L20.40,13.25 L20.09,13.52 L19.41,13.69 L18.73,13.82 L18.41,14.00 L18.27,14.21 L18.17,14.43 L18.08,14.65 L17.99,14.88 L17.90,15.10 L17.85,15.35 L17.95,15.70 L18.35,16.27 L18.70,16.88 L18.72,17.29 L18.58,17.58 L18.38,17.83 L18.16,18.06 L17.93,18.28 L17.68,18.48 L17.39,18.62 L16.98,18.60 L16.37,18.25 L15.80,17.85 L15.45,17.75 L15.20,17.80 L14.98,17.89 L14.75,17.98 L14.53,18.07 L14.31,18.17 L14.10,18.31 L13.92,18.63 L13.79,19.31 L13.62,19.99 L13.35,20.30 L13.04,20.40 L12.72,20.44 L12.40,20.45 L12.08,20.44 L11.76,20.40 L11.45,20.30 L11.18,19.99 L11.01,19.31 L10.88,18.63 L10.70,18.31 L10.49,18.17 L10.27,18.07 L10.05,17.98 L9.82,17.89 L9.60,17.80 L9.35,17.75 L9.00,17.85 L8.43,18.25 L7.82,18.60 L7.41,18.62 L7.12,18.48 L6.87,18.28 L6.64,18.06 L6.42,17.83 L6.22,17.58 L6.08,17.29 L6.10,16.88 L6.45,16.27 L6.85,15.70 L6.95,15.35 L6.90,15.10 L6.81,14.88 L6.72,14.65 L6.63,14.43 L6.53,14.21 L6.39,14.00 L6.07,13.82 L5.39,13.69 L4.71,13.52 L4.40,13.25 L4.30,12.94 L4.26,12.62 L4.25,12.30 L4.26,11.98 L4.30,11.66 L4.40,11.35 L4.71,11.08 L5.39,10.91 L6.07,10.78 L6.39,10.60 L6.53,10.39 L6.63,10.17 L6.72,9.95 L6.81,9.72 L6.90,9.50 L6.95,9.25 L6.85,8.90 L6.45,8.33 L6.10,7.72 L6.08,7.31 L6.22,7.02 L6.42,6.77 L6.64,6.54 L6.87,6.32 L7.12,6.12 L7.41,5.98 L7.82,6.00 L8.43,6.35 L9.00,6.75 L9.35,6.85 L9.60,6.80 L9.82,6.71 L10.05,6.62 L10.27,6.53 L10.49,6.43 L10.70,6.29 L10.88,5.97 L11.01,5.29 L11.18,4.61 L11.45,4.30 L11.76,4.20 L12.08,4.16Z"/><circle cx="12.4" cy="12.3" r="3.35"/></g></g>
<g transform="translate(482.32,681)"><rect width="25" height="25" fill="#A53200"/><g fill="none" stroke="#fff" stroke-width="1" stroke-linejoin="round" stroke-linecap="round" opacity="0.92"><path d="M4.2,16 Q5.5,7 15.8,4.4 L15.2,5.8 Q10,9.5 4.2,16Z"/><path d="M9.3,8.3 L20.6,19.6 L19.5,20.7 L8.2,9.4Z"/><circle cx="9" cy="9" r="1.3"/></g></g>
<g transform="translate(512.34,681)"><rect width="25" height="25" fill="#AA7329"/><g fill="none" stroke="#fff" stroke-width="1" stroke-linejoin="round" stroke-linecap="round" opacity="0.92"><path d="M2,7 H21.4 V10.6 Q21,13 17,13.4 Q16.2,15 17.2,16.1 H19.8 V18.5 H6.3 V16.1 H10.3 Q11.4,15 10.4,13.4 Q4.5,12.8 2,7Z"/><path d="M3.2,8.6 Q6,10.8 9.4,10.8"/></g></g>
<g transform="translate(542.36,681)"><rect width="25" height="25" fill="#ED40F2"/><g fill="none" stroke="#fff" stroke-width="1" stroke-linejoin="round" stroke-linecap="round" opacity="0.92"><path d="M8.9,5 H15.8" stroke-width="1.3"/><path d="M10.3,5.4 V10.9 L4.3,19.5 H21.1 L14.1,10.9 V5.4 M7.9,14.25 H16.5"/><path d="M6.6,16.2 H17.8 M5.5,17.8 H18.9 M11.2,6 V10.5 M12.2,6 V10.5 M13.2,6 V10.5" stroke-width="0.5" opacity="0.6"/></g></g>
<g transform="translate(572.38,681)"><rect width="25" height="25" fill="#69C8ED"/><g fill="none" stroke="#fff" stroke-width="1" stroke-linejoin="round" stroke-linecap="round" opacity="0.92"><path d="M9,3.3 L8.1,7.6 M7.6,10.2 L5.4,20.7 M15.4,3.3 L16.3,7.6 M16.9,10.2 L19.3,20.7" stroke-width="1.1" opacity="0.8"/><path d="M12.3,4.3 V20.8" stroke-dasharray="1.3 1.75" stroke-width="1.3" stroke-linecap="butt" opacity="0.85"/></g></g>
<g transform="translate(602.4,681)"><rect width="25" height="25" fill="#FF73FF"/><g fill="none" stroke="#fff" stroke-width="1" stroke-linejoin="round" stroke-linecap="round" opacity="0.92"><path d="M8.9,8.3 L11.4,4.2 Q12.2,3.2 13,4.2 L16.5,8.9 M13.6,8.8 L16.7,9.2 L18.4,5.6 M18.4,11.4 L20.6,15.2 Q21.3,16.6 20.2,17.6 Q19.6,18.2 18.6,18.2 L14.1,18.3 M15.3,15.7 L13.6,18.3 L15.6,20.9 M10.3,18.3 H6.3 Q4.4,18.2 3.9,16.6 Q3.6,15.6 4.3,14.6 L6.5,11.1 M3.6,10.7 L6.8,10.5 L8.4,13.3"/></g></g>
<g transform="translate(632.42,681)"><rect width="25" height="25" fill="#892EFF"/><g fill="none" stroke="#fff" stroke-width="1" stroke-linejoin="round" stroke-linecap="round" opacity="0.92"><path d="M6,5.4 H19.1 L22.3,9.8 L12.5,20.1 L2.8,9.8Z M2.8,9.8 H22.3 M6,5.4 L9.5,9.8 L12.5,5.4 L15.6,9.8 L19.1,5.4 M9.5,9.8 L12.5,20.1 L15.6,9.8"/></g></g>
<g transform="translate(662.44,681)"><rect width="25" height="25" fill="#02A347"/><g fill="none" stroke="#fff" stroke-width="1" stroke-linejoin="round" stroke-linecap="round" opacity="0.92"><path d="M8.2,4.2 L2.95,8.3 L5.8,11.1 L7.25,10 V20.4 H18.25 V10 L19.7,11.1 L22.6,8.3 L17.3,4.2 Q12.75,8 8.2,4.2Z" stroke-width="1.2"/></g></g>
<g transform="translate(692.46,681)"><rect width="25" height="25" fill="#F4CE0F"/><g fill="none" stroke="#fff" stroke-width="1" stroke-linejoin="round" stroke-linecap="round" opacity="0.92"><ellipse cx="12.5" cy="12.7" rx="8.2" ry="7.8"/><path d="M12.9,4 L13.6,5.8 L15.4,5.3 L14.2,6.8 L15.2,8.2 L13.2,7.8 L12.3,9.2 L11.9,7.5 L10.2,7.2 L11.8,6.2 L11.5,4.6 L12.6,5.6Z" stroke-width="0.7"/></g></g>
<g transform="translate(722.48,681)"><rect width="25" height="25" fill="#9E0071"/><g fill="none" stroke="#fff" stroke-width="1" stroke-linejoin="round" stroke-linecap="round" opacity="0.92"><path d="M2.8,16.4 A9.6,9.6 0 0 1 21.9,16.4" stroke-width="1.3"/><path d="M2.8,16.6 h2.4 M21.9,16.6 h-2.4 M12.35,6.8 V10 M5.6,9.5 l1.4,1.4 M19.1,9.5 l-1.4,1.4"/><path d="M12.35,10.9 Q10.2,15 10.5,16 Q10.9,17.9 12.35,17.9 Q13.8,17.9 14.2,16 Q14.5,15 12.35,10.9Z" stroke-width="1.1"/></g></g>
<g transform="translate(752.5,681)"><rect width="25" height="25" fill="#A0D447"/><g fill="none" stroke="#fff" stroke-width="1" stroke-linejoin="round" stroke-linecap="round" opacity="0.92"><path d="M12.45,3 V23.8" stroke-width="1.4"/><path d="M9.2,5 L8.8,2.8 M15.7,5 L16.1,2.8" stroke-width="0.8"/><ellipse cx="12.45" cy="3.9" rx="1.1" ry="2" stroke-width="0.8"/><ellipse cx="10.5" cy="6.3" rx="1.4" ry="2.2" transform="rotate(-22 10.5 6.3)" stroke-width="0.8"/><ellipse cx="14.4" cy="6.3" rx="1.4" ry="2.2" transform="rotate(22 14.4 6.3)" stroke-width="0.8"/><ellipse cx="10.5" cy="9.8" rx="1.4" ry="2.2" transform="rotate(-22 10.5 9.8)" stroke-width="0.8"/><ellipse cx="14.4" cy="9.8" rx="1.4" ry="2.2" transform="rotate(22 14.4 9.8)" stroke-width="0.8"/><ellipse cx="10.5" cy="13.2" rx="1.4" ry="2.2" transform="rotate(-22 10.5 13.2)" stroke-width="0.8"/><ellipse cx="14.4" cy="13.2" rx="1.4" ry="2.2" transform="rotate(22 14.4 13.2)" stroke-width="0.8"/></g></g>
<g transform="translate(782.52,681)"><rect width="25" height="25" fill="#EFDC81"/><g fill="none" stroke="#fff" stroke-width="1" stroke-linejoin="round" stroke-linecap="round" opacity="0.92"><path d="M6.4,17.7 V6.2 Q6.4,4.6 8,4.6 H18.4 Q20,4.6 19.8,6.4 H17.6 V17.7 M4.4,17.7 H17.6 Q18.6,19 17.6,20.5 H5.4 Q3.6,19.2 4.4,17.7Z M8.8,7.4 H15.8 M8.8,9.8 H15.8 M8.8,12.1 H15.8 M8.8,14.5 H15.8" stroke-width="0.9"/></g></g>
<g transform="translate(812.54,681)"><rect width="25" height="25" fill="#9C9FB2"/><g fill="none" stroke="#fff" stroke-width="1" stroke-linejoin="round" stroke-linecap="round" opacity="0.92"><path d="M12.3,3.8 L20.6,8.2 V16.9 L12.3,20.9 L4.3,16.9 V8.2Z M4.3,8.2 L12.3,12.5 L20.6,8.2 M12.3,12.5 V20.9 M8.2,6 L16.4,10.4 V13.2" stroke-width="1.1"/></g></g>
<g transform="translate(842.56,681)"><rect width="25" height="25" fill="#F46D2A"/><g fill="none" stroke="#fff" stroke-width="1" stroke-linejoin="round" stroke-linecap="round" opacity="0.92"><path d="M10.5,4.6 L14.5,4.2 L19.3,12.9 L21.3,16.5 L13.7,19.3 L8.2,19.3 L4.6,12.9 L7,7.4Z M10.5,4.6 L9.6,10.5 L4.6,12.9 M9.6,10.5 L13.2,15.8 L8.2,19.3 M13.2,15.8 L21.3,16.5 M14.5,4.2 L13.2,15.8 M7,7.4 L9.6,10.5" stroke-width="0.9"/></g></g>
<g transform="translate(872.58,681)"><rect width="25" height="25" fill="#EDB73E"/><g fill="none" stroke="#fff" stroke-width="1" stroke-linejoin="round" stroke-linecap="round" opacity="0.92"><path d="M8.4,2.6 H17.2 V5 H8.4Z M9,5 L6.8,9 V22.5 H18.8 V9 L16.6,5 M10.8,10.6 H14.8" stroke-width="0.9"/><circle cx="12.8" cy="17.3" r="1.9" stroke-width="0.9"/></g></g>
<g transform="translate(902.6,681)"><rect width="25" height="25" fill="#F4A58C"/><g fill="none" stroke="#fff" stroke-width="1" stroke-linejoin="round" stroke-linecap="round" opacity="0.92"><path d="M2.6,9.5 Q3,7.6 5,7.6 H18.5 L21.6,5.6 L21.4,7.6 L23.4,8.4 L23,11 L21.2,11.6 Q19.8,14.8 17.6,15.4 V19.5 H15.6 V15 H8.4 V19.5 H6.4 V15.6 Q4.4,14.6 4.2,11.2 L2.6,12.6Z" stroke-width="0.9"/></g></g>
<g transform="translate(932.62,681)"><rect width="25" height="25" fill="#2CBA0F"/><g fill="none" stroke="#fff" stroke-width="1" stroke-linejoin="round" stroke-linecap="round" opacity="0.92"><path d="M2.7,13.3 H23.2 V15.6 H2.7Z M2.9,13.3 Q2.6,11.2 3.4,10.2 Q6.5,9.2 8.9,6.1 L11,7.4 L21,11 Q23.2,11.8 23.2,13.3 M11.6,7.6 l-0.9,1.6 M13.8,8.4 l-0.9,1.6 M16,9.2 l-0.9,1.6 M18.2,10 l-0.9,1.6" stroke-width="0.9"/></g></g>
<g transform="translate(962.64,681)"><rect width="25" height="25" fill="#75F1B3"/><g fill="none" stroke="#fff" stroke-width="1" stroke-linejoin="round" stroke-linecap="round" opacity="0.92"><path d="M10.5,4.6 Q12.8,6.4 15.1,4.6 Q15.8,6.6 18.2,6 L20.4,8.6 L18.2,10 Q16.8,12.5 18.4,15 L20.5,16.6 L18.6,19 Q16.4,18.2 15,19.2 L12.8,20.4 L10.6,19.2 Q9.2,18.2 7,19 L5.2,16.6 L7.2,15 Q8.8,12.5 7.4,10 L5.2,8.6 L7.4,6 Q9.8,6.6 10.5,4.6Z" stroke-width="0.9"/></g></g>
<g transform="translate(992.66,681)"><rect width="25" height="25" fill="#DD0E31"/><g fill="none" stroke="#fff" stroke-width="1" stroke-linejoin="round" stroke-linecap="round" opacity="0.92"><path d="M3.9,8 H21.4 Q23.5,8 23.5,12.3 Q23.5,16.6 21.4,16.6 H3.9" stroke-width="0.9"/><ellipse cx="3.9" cy="12.3" rx="1.9" ry="4.3" stroke-width="0.9"/><path d="M9,10.8 H15 M16.5,10.8 H20 M8.5,13.4 H11.5 M13,13.4 H19" stroke-width="1"/></g></g>
<g transform="translate(1022.68,681)"><rect width="25" height="25" fill="#9CF2CF"/><g fill="none" stroke="#fff" stroke-width="1" stroke-linejoin="round" stroke-linecap="round" opacity="0.92"><path d="M4.5,20 V8.5 Q4.800000000000001,5 6.4,2.7 Q8.0,5 8.3,8.5 V20Z M4.5,17.6 H8.3" stroke-width="0.8"/><path d="M10.9,20 V8.5 Q11.200000000000001,5 12.8,2.7 Q14.4,5 14.700000000000001,8.5 V20Z M10.9,17.6 H14.700000000000001" stroke-width="0.8"/><path d="M17.400000000000002,20 V8.5 Q17.7,5 19.3,2.7 Q20.900000000000002,5 21.2,8.5 V20Z M17.400000000000002,17.6 H21.2" stroke-width="0.8"/></g></g>
<g transform="translate(1052.7,681)"><rect width="25" height="25" fill="#847290"/><g fill="none" stroke="#fff" stroke-width="1" stroke-linejoin="round" stroke-linecap="round" opacity="0.92"><path d="M6,3.2 H19.9 V15.2 H6Z M5.4,16.2 H20.5 M12.9,1.6 V3.2 M9.4,16.6 L6.5,22.3 M16.5,16.6 L19.4,22.3 M12.9,16.6 V20" stroke-width="1"/></g></g>
<g transform="translate(1397.2,681)"><rect width="24.8" height="25" fill="#BC10CD"/><g fill="#fff" stroke="#fff" stroke-width="0.5" stroke-linejoin="round"><path d="M14.5,3.4 L16.2,6 L16.9,8.5 L15.6,11 L17.5,11.8 L20.4,12.6 L19.5,14.5 L18,15.5 L17.5,17.5 L16,17 L17,20 L15,18.5 L13.5,17.5 L12.5,19.5 L11.3,18 L10,16.8 L8.5,17.3 L8.2,19 L6.5,19.8 L4.3,19 L4.8,16.5 L7.5,16 L7.8,14 L9.5,13.5 L10.5,11.5 L10.8,9 L12.5,6.5Z"/><ellipse cx="6.4" cy="11.6" rx="0.8" ry="1.5"/><ellipse cx="5.7" cy="5.4" rx="1" ry="0.6"/></g></g>
<g transform="translate(1427.2,681)"><rect width="24.8" height="25" fill="#C8140A"/><g fill="#fff" stroke="#fff" stroke-width="0.5" stroke-linejoin="round"><path d="M2.2,6.9 L5,6.5 L9.2,5 L14,5.5 L18,5.8 L22.8,6.9 L21,8.5 L19.5,9 L20.3,11.5 L18.8,11 L18.6,13.5 L17.5,14.2 L18.2,16 L17,17 L16.9,19.8 L15.6,20.3 L15,18 L13.8,16.5 L12.6,18.2 L11.5,16 L10,15 L8.5,15.5 L7,17 L5.5,15.5 L5,13.5 L2.5,13 L3.2,10.5 L2.5,9Z"/><ellipse cx="20.6" cy="13" rx="0.5" ry="1.1"/><circle cx="17.8" cy="19.4" r="0.6"/></g></g>
<g transform="translate(1457.2,681)"><rect width="24.8" height="25" fill="#0669FF"/><g fill="#fff" stroke="#fff" stroke-width="0.5" stroke-linejoin="round"><path d="M4.5,7.2 L6.5,6 L9,6.5 L11,7 L13,6.3 L12.5,4.5 L14.3,2.6 L17,3.5 L18.6,6 L16.5,7 L15.5,8.5 L17.5,9 L20.2,10.1 L18.5,12 L17.5,13.5 L16.3,15 L16.4,17.3 L15.3,16.8 L13.5,17 L13.2,18.8 L14.8,20 L14.5,21.8 L12.5,20.5 L10.5,18 L8.5,15.5 L7.3,13.5 L7.5,11 L6.5,9Z"/><path d="M14.6,4.8 L15.8,6.2 L14.4,7.6 L13.8,6.2Z" fill="#0669FF"/></g></g>
<g transform="translate(1487.2,681)"><rect width="24.8" height="25" fill="#FFDC00"/><g fill="#fff" stroke="#fff" stroke-width="0.5" stroke-linejoin="round"><path d="M4.4,8.5 L5.2,6 L7.2,4.3 L10,3.9 L12.3,4.2 L14,5 L16.2,6 L17.5,8.8 L20,10.2 L18.8,12.2 L17.4,14.2 L17,16.5 L15.5,18.5 L14.5,20.3 L12.8,20.8 L11.8,19 L11.2,16.5 L11.4,14 L10.4,11.9 L8,11.6 L6,11.9 L4.8,10.3Z"/><ellipse cx="19" cy="17.1" rx="0.55" ry="1.3" transform="rotate(25 19 17.1)"/></g></g>
<g transform="translate(1517.2,681)"><rect width="24.8" height="25" fill="#1BB659"/><g fill="#fff" stroke="#fff" stroke-width="0.5" stroke-linejoin="round"><path d="M9.4,3.4 L12.5,4.6 L15.6,6.4 L17.5,8 L18.9,9.6 L17.8,11.8 L16.6,13 L14.5,14.2 L13,15.6 L11.5,17.5 L10.6,19 L9.8,21 L8.9,20.5 L8.8,17.5 L9.2,14.5 L9.1,11.9 L7.6,9.8 L6.9,7.5 L6.8,5.5 L7.8,4.3Z"/></g></g>
<g transform="translate(1547.2,681)"><rect width="24.8" height="25" fill="#FF9600"/><g fill="#fff" stroke="#fff" stroke-width="0.5" stroke-linejoin="round"><path d="M4.1,13.3 L5.2,11.6 L7.2,9.6 L9,9 L10.8,8.4 L11.8,9.5 L12.7,10.3 L13.7,8.4 L14.5,10.3 L15.5,12 L16.3,14.8 L15.4,16.8 L14.2,17.9 L12.4,17 L10.5,16 L8.8,15.4 L7,16 L5.2,16.2 L4.5,15Z"/><ellipse cx="11.4" cy="5.5" rx="1.6" ry="0.7" transform="rotate(35 11.4 5.5)"/><ellipse cx="17.4" cy="19.4" rx="1.7" ry="0.55" transform="rotate(-40 17.4 19.4)"/><circle cx="13.4" cy="19.1" r="0.5"/><circle cx="21.6" cy="11.3" r="0.4"/><circle cx="17.5" cy="11.6" r="0.35"/></g></g>
<g transform="translate(1577.2,681)"><rect width="24.8" height="25" fill="#B0B8C6"/><g fill="#fff" stroke="#fff" stroke-width="0.5" stroke-linejoin="round"><path d="M4.3,8.5 L5.8,9 L7.1,10.6 L8.5,8.5 L10,6.8 L11.8,5.9 L14,6 L16.4,7 L18.3,9 L19.5,11.3 L20,13 L19.7,15 L18.8,17 L17.4,18.8 L15.5,19.6 L13.8,19.6 L12.6,18.2 L12,17.2 L10,16.8 L8.1,16.2 L6.5,14.8 L5.6,13.4 L6.1,11.8 L5,10.3Z"/></g></g>
</svg>
</body></html>
